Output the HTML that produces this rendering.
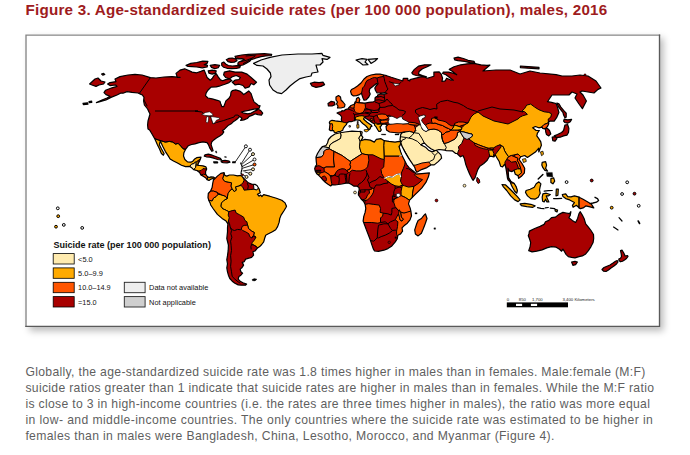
<!DOCTYPE html>
<html lang="en"><head><meta charset="utf-8">
<title>Figure 3. Age-standardized suicide rates (per 100 000 population), males, 2016</title>
<style>
html,body{margin:0;padding:0;background:#fff;}
body{width:690px;height:455px;position:relative;overflow:hidden;font-family:"Liberation Sans",Arial,Helvetica,sans-serif;}
.title{position:absolute;left:25.5px;top:-0.5px;margin:0;font-weight:bold;font-size:15.2px;line-height:20px;color:#9E1B20;white-space:nowrap;letter-spacing:0.229px;}
.frame{position:absolute;left:25px;top:34px;width:635px;height:293px;background:#fff;box-shadow:3.5px 4px 7px rgba(0,0,0,.27);}
svg.map{position:absolute;left:0;top:0;}
.para{position:absolute;left:25.4px;top:364.3px;margin:0;font-size:12.2px;line-height:16.05px;color:#5f5f5f;white-space:nowrap;}
.para span{display:block;height:16.05px;}
.para b{font-weight:normal;display:inline-block;}
.para .l1{letter-spacing:0.320px}.para .l2{letter-spacing:0.311px}.para .l3{letter-spacing:0.314px}.para .l4{letter-spacing:0.396px}.para .l5{letter-spacing:0.345px}
</style></head><body>
<h1 class="title">Figure 3. Age-standardized suicide rates (per 100 000 population), males, 2016</h1>
<div class="frame"></div>
<svg class="map" width="690" height="455" viewBox="0 0 690 455">
<path d="M26,326.3 L26,35.1 L659.5,35.1" fill="none" stroke="#858585" stroke-width="1.35" stroke-linecap="square"/>
<path d="M659.5,35.1 L659.5,326.3 L26,326.3" fill="none" stroke="#5a5a5a" stroke-width="1.35" stroke-linecap="square"/>
<clipPath id="cNA"><path d="M96.4,102.6 102.0,100.0 107.0,98.0 110.0,96.2 106.0,94.6 104.0,92.6 105.6,90.2 112.0,87.8 117.0,86.4 115.6,85.0 110.0,85.6 107.6,84.0 110.0,82.6 116.0,81.6 115.0,79.0 120.0,76.6 128.0,75.0 135.0,74.4 142.0,75.0 150.4,77.6 156.0,78.0 164.0,77.0 172.0,76.6 180.0,77.4 177.4,77.5 176.0,73.4 180.0,70.1 184.7,68.8 189.4,70.8 192.1,72.1 196.8,72.8 200.8,71.4 204.2,70.1 205.5,73.4 207.1,77.5 210.2,80.2 212.2,78.5 213.8,75.9 216.2,73.7 218.2,76.8 220.5,79.9 222.7,80.8 225.6,79.6 229.6,78.8 231.9,80.6 229.0,82.6 224.9,84.2 220.3,85.8 216.2,86.9 211.1,87.1 207.9,90.2 206.2,92.9 205.5,95.6 207.9,98.0 212.2,98.9 217.3,100.3 220.0,101.3 220.9,104.3 221.9,106.7 223.7,106.7 224.9,103.6 225.9,100.9 229.0,98.2 230.6,95.6 231.0,92.2 232.3,90.6 235.7,89.9 239.7,91.1 241.7,92.5 243.7,94.6 246.0,92.9 248.7,90.9 251.1,93.6 252.4,97.6 254.0,101.9 256.7,104.0 258.9,105.9 260.0,105.7 259.1,108.4 254.0,109.1 248.6,110.4 244.6,111.1 241.2,112.0 243.9,113.2 247.9,113.8 251.3,113.1 254.0,111.4 256.4,110.4 258.3,109.2 260.7,110.5 262.7,113.1 261.4,115.1 258.0,114.6 255.3,113.8 252.6,115.1 249.3,116.4 247.3,118.5 243.9,119.9 240.6,120.5 241.9,118.1 239.5,116.4 237.9,118.5 235.2,120.5 233.2,121.8 231.2,123.8 228.5,125.2 226.5,127.2 224.5,129.2 222.5,130.5 223.8,131.9 222.5,133.9 219.8,135.9 216.4,137.9 213.8,139.9 211.8,141.9 211.1,144.6 212.2,147.9 213.1,150.6 211.8,151.3 209.7,147.9 208.4,144.6 207.1,142.6 203.0,141.9 199.0,142.6 195.0,143.9 191.6,144.5 188.2,145.8 185.5,149.4 183.9,152.8 183.5,156.1 184.9,159.5 187.5,161.9 190.9,162.2 192.7,161.3 194.3,159.3 196.7,157.7 201.0,157.2 200.3,159.3 199.3,161.7 198.3,163.3 197.9,165.3 199.6,165.5 203.0,165.9 205.9,166.9 206.7,168.9 205.6,171.6 205.6,174.2 207.0,176.2 209.0,177.6 211.0,176.9 213.7,177.2 215.0,178.3 214.4,179.9 213.0,178.5 211.0,179.1 209.0,180.4 207.0,179.6 205.6,177.7 203.6,176.4 200.9,175.0 199.6,172.4 196.9,170.5 193.6,169.7 191.6,167.7 189.6,166.3 185.5,166.6 181.5,165.3 177.5,163.0 173.5,161.0 170.1,159.0 168.1,155.6 165.4,151.6 162.7,146.2 160.3,141.0 159.4,144.7 161.4,148.8 164.1,153.5 163.4,155.2 161.4,153.5 159.4,148.8 157.4,144.7 156.0,141.4 154.7,138.7 152.0,134.0 149.6,130.0 148.0,129.0 147.6,125.0 148.0,121.0 150.0,114.0 149.0,112.0 147.6,109.0 144.4,105.0 143.6,101.0 144.0,97.4 142.4,95.0 140.0,94.0 138.0,93.0 132.0,92.4 127.0,91.6 123.0,93.2 121.0,93.0 117.0,95.0 111.0,97.4 106.0,100.0 100.0,101.6ZM224.3,72.1 229.6,70.8 235.0,72.1 241.7,72.1 247.1,74.1 251.1,77.5 256.5,82.2 253.8,84.8 251.1,83.5 249.1,86.9 245.1,88.2 243.0,85.5 239.0,84.2 235.0,84.8 232.3,82.2 235.0,80.2 239.0,79.5 240.4,77.5 236.3,75.5 232.3,76.8 229.6,78.8 225.6,77.5 223.6,74.8ZM235.0,56.3 241.7,55.0 248.3,54.3 255.0,54.0 264.3,53.7 271.7,54.3 271.3,55.5 265.7,55.9 261.0,56.7 256.3,58.0 251.0,59.7 249.7,61.3 246.3,63.3 243.0,65.0 240.3,65.5 237.7,64.3 238.3,62.3 241.7,60.7 244.3,59.3 241.7,58.7 237.7,59.0 235.7,58.0ZM226.3,59.7 229.0,58.3 232.3,58.0 235.7,59.0 237.0,60.7 234.3,62.1 231.0,62.3 228.0,61.7ZM221.7,63.0 223.7,62.0 225.7,64.0 228.3,65.5 232.3,66.0 237.0,65.7 240.3,66.0 239.7,67.7 236.3,68.5 231.7,68.7 227.0,68.3 223.7,67.3 221.7,65.3ZM186.1,65.4 190.8,63.4 196.8,62.5 202.8,61.1 207.9,61.4 207.1,63.4 204.2,64.7 207.5,65.4 207.1,67.0 202.2,67.8 196.8,67.0 192.1,66.7 188.1,66.5ZM210.2,65.4 214.9,64.7 219.6,65.4 218.2,67.8 214.9,68.8 211.5,67.4ZM208.2,70.8 212.2,70.1 216.2,70.8 215.6,73.2 212.2,74.1 208.9,73.2Z"/></clipPath>
<path d="M96.4,102.6 102.0,100.0 107.0,98.0 110.0,96.2 106.0,94.6 104.0,92.6 105.6,90.2 112.0,87.8 117.0,86.4 115.6,85.0 110.0,85.6 107.6,84.0 110.0,82.6 116.0,81.6 115.0,79.0 120.0,76.6 128.0,75.0 135.0,74.4 142.0,75.0 150.4,77.6 156.0,78.0 164.0,77.0 172.0,76.6 180.0,77.4 177.4,77.5 176.0,73.4 180.0,70.1 184.7,68.8 189.4,70.8 192.1,72.1 196.8,72.8 200.8,71.4 204.2,70.1 205.5,73.4 207.1,77.5 210.2,80.2 212.2,78.5 213.8,75.9 216.2,73.7 218.2,76.8 220.5,79.9 222.7,80.8 225.6,79.6 229.6,78.8 231.9,80.6 229.0,82.6 224.9,84.2 220.3,85.8 216.2,86.9 211.1,87.1 207.9,90.2 206.2,92.9 205.5,95.6 207.9,98.0 212.2,98.9 217.3,100.3 220.0,101.3 220.9,104.3 221.9,106.7 223.7,106.7 224.9,103.6 225.9,100.9 229.0,98.2 230.6,95.6 231.0,92.2 232.3,90.6 235.7,89.9 239.7,91.1 241.7,92.5 243.7,94.6 246.0,92.9 248.7,90.9 251.1,93.6 252.4,97.6 254.0,101.9 256.7,104.0 258.9,105.9 260.0,105.7 259.1,108.4 254.0,109.1 248.6,110.4 244.6,111.1 241.2,112.0 243.9,113.2 247.9,113.8 251.3,113.1 254.0,111.4 256.4,110.4 258.3,109.2 260.7,110.5 262.7,113.1 261.4,115.1 258.0,114.6 255.3,113.8 252.6,115.1 249.3,116.4 247.3,118.5 243.9,119.9 240.6,120.5 241.9,118.1 239.5,116.4 237.9,118.5 235.2,120.5 233.2,121.8 231.2,123.8 228.5,125.2 226.5,127.2 224.5,129.2 222.5,130.5 223.8,131.9 222.5,133.9 219.8,135.9 216.4,137.9 213.8,139.9 211.8,141.9 211.1,144.6 212.2,147.9 213.1,150.6 211.8,151.3 209.7,147.9 208.4,144.6 207.1,142.6 203.0,141.9 199.0,142.6 195.0,143.9 191.6,144.5 188.2,145.8 185.5,149.4 183.9,152.8 183.5,156.1 184.9,159.5 187.5,161.9 190.9,162.2 192.7,161.3 194.3,159.3 196.7,157.7 201.0,157.2 200.3,159.3 199.3,161.7 198.3,163.3 197.9,165.3 199.6,165.5 203.0,165.9 205.9,166.9 206.7,168.9 205.6,171.6 205.6,174.2 207.0,176.2 209.0,177.6 211.0,176.9 213.7,177.2 215.0,178.3 214.4,179.9 213.0,178.5 211.0,179.1 209.0,180.4 207.0,179.6 205.6,177.7 203.6,176.4 200.9,175.0 199.6,172.4 196.9,170.5 193.6,169.7 191.6,167.7 189.6,166.3 185.5,166.6 181.5,165.3 177.5,163.0 173.5,161.0 170.1,159.0 168.1,155.6 165.4,151.6 162.7,146.2 160.3,141.0 159.4,144.7 161.4,148.8 164.1,153.5 163.4,155.2 161.4,153.5 159.4,148.8 157.4,144.7 156.0,141.4 154.7,138.7 152.0,134.0 149.6,130.0 148.0,129.0 147.6,125.0 148.0,121.0 150.0,114.0 149.0,112.0 147.6,109.0 144.4,105.0 143.6,101.0 144.0,97.4 142.4,95.0 140.0,94.0 138.0,93.0 132.0,92.4 127.0,91.6 123.0,93.2 121.0,93.0 117.0,95.0 111.0,97.4 106.0,100.0 100.0,101.6ZM224.3,72.1 229.6,70.8 235.0,72.1 241.7,72.1 247.1,74.1 251.1,77.5 256.5,82.2 253.8,84.8 251.1,83.5 249.1,86.9 245.1,88.2 243.0,85.5 239.0,84.2 235.0,84.8 232.3,82.2 235.0,80.2 239.0,79.5 240.4,77.5 236.3,75.5 232.3,76.8 229.6,78.8 225.6,77.5 223.6,74.8ZM235.0,56.3 241.7,55.0 248.3,54.3 255.0,54.0 264.3,53.7 271.7,54.3 271.3,55.5 265.7,55.9 261.0,56.7 256.3,58.0 251.0,59.7 249.7,61.3 246.3,63.3 243.0,65.0 240.3,65.5 237.7,64.3 238.3,62.3 241.7,60.7 244.3,59.3 241.7,58.7 237.7,59.0 235.7,58.0ZM226.3,59.7 229.0,58.3 232.3,58.0 235.7,59.0 237.0,60.7 234.3,62.1 231.0,62.3 228.0,61.7ZM221.7,63.0 223.7,62.0 225.7,64.0 228.3,65.5 232.3,66.0 237.0,65.7 240.3,66.0 239.7,67.7 236.3,68.5 231.7,68.7 227.0,68.3 223.7,67.3 221.7,65.3ZM186.1,65.4 190.8,63.4 196.8,62.5 202.8,61.1 207.9,61.4 207.1,63.4 204.2,64.7 207.5,65.4 207.1,67.0 202.2,67.8 196.8,67.0 192.1,66.7 188.1,66.5ZM210.2,65.4 214.9,64.7 219.6,65.4 218.2,67.8 214.9,68.8 211.5,67.4ZM208.2,70.8 212.2,70.1 216.2,70.8 215.6,73.2 212.2,74.1 208.9,73.2Z" fill="#A80000"/>
<g clip-path="url(#cNA)">
<path d="M154.7,138.7 158.7,140.1 165.4,142.1 169.4,141.4 172.8,142.1 175.5,144.1 178.2,143.4 180.8,146.1 183.1,148.8 185.5,149.4 188.2,151.4 201.6,155.5 200.9,158.8 197.9,160.6 196.3,162.2 194.9,162.2 194.2,163.5 191.6,164.2 189.6,166.5 188.2,170.2 161.4,163.5 152.0,143.4Z" fill="#FFAA00" stroke="#000" stroke-width="1" stroke-linejoin="round"/>
<path d="M189.6,166.5 191.6,164.2 194.2,163.5 194.9,162.2 196.3,162.2 196.0,165.1 195.7,167.3 194.4,168.9 193.3,170.2 191.2,168.3Z" fill="#FFEBAF" stroke="#000" stroke-width="1" stroke-linejoin="round"/>
<path d="M196.3,162.2 197.9,160.6 198.3,165.1 196.0,165.1Z" fill="#FFAA00" stroke="#000" stroke-width="1" stroke-linejoin="round"/>
<path d="M196.0,165.1 199.6,165.1 203.0,165.5 207.0,166.5 205.9,168.9 203.0,168.6 201.1,170.5 198.9,171.0 193.6,170.2 194.4,168.9 195.7,167.3Z" fill="#FFAA00" stroke="#000" stroke-width="1" stroke-linejoin="round"/>
<path d="M200.5,175.3 203.6,174.2 206.2,174.9 207.8,176.6 207.2,180.1 205.0,178.5 202.7,177.2Z" fill="#FF5500" stroke="#000" stroke-width="1" stroke-linejoin="round"/>
<path d="M207.8,176.6 209.4,177.2 211.3,176.4 214.0,176.6 215.7,178.3 214.6,180.7 213.0,179.1 211.0,179.6 209.0,180.9 207.2,180.1Z" fill="#FFAA00" stroke="#000" stroke-width="1" stroke-linejoin="round"/>
<path d="M237.0,58.0 244.3,59.7" fill="none" stroke="#000" stroke-width="1" stroke-linejoin="round"/>
<path d="M240.3,61.7 246.3,60.3 252.3,58.0" fill="none" stroke="#000" stroke-width="1" stroke-linejoin="round"/>
<path d="M243.0,63.7 249.7,60.0 255.0,56.0" fill="none" stroke="#000" stroke-width="1" stroke-linejoin="round"/>
<path d="M245.7,56.0 256.3,55.0" fill="none" stroke="#000" stroke-width="1" stroke-linejoin="round"/>
<path d="M150.4,77.6 139.6,93.0 140.4,94.4 144.0,100.0 147.2,106.2" fill="none" stroke="#000" stroke-width="1" stroke-linejoin="round"/>
<path d="M155.0,111.0 198.0,111.0 195.0,111.1 201.7,112.0 205.1,115.1 209.1,115.8 210.8,116.4 212.2,121.1 213.1,123.8 216.4,122.5 223.8,120.5 227.8,119.1 233.9,117.1 235.2,115.1 237.9,115.1 239.5,116.4" fill="none" stroke="#000" stroke-width="1" stroke-linejoin="round"/>
<path d="M154.7,138.7 158.7,140.1 165.4,142.1 169.4,141.4 172.8,142.1 175.5,144.1 178.2,143.4 180.8,146.1 183.1,148.8 185.5,149.4" fill="none" stroke="#000" stroke-width="1" stroke-linejoin="round"/>
</g>
<path d="M96.4,102.6 102.0,100.0 107.0,98.0 110.0,96.2 106.0,94.6 104.0,92.6 105.6,90.2 112.0,87.8 117.0,86.4 115.6,85.0 110.0,85.6 107.6,84.0 110.0,82.6 116.0,81.6 115.0,79.0 120.0,76.6 128.0,75.0 135.0,74.4 142.0,75.0 150.4,77.6 156.0,78.0 164.0,77.0 172.0,76.6 180.0,77.4 177.4,77.5 176.0,73.4 180.0,70.1 184.7,68.8 189.4,70.8 192.1,72.1 196.8,72.8 200.8,71.4 204.2,70.1 205.5,73.4 207.1,77.5 210.2,80.2 212.2,78.5 213.8,75.9 216.2,73.7 218.2,76.8 220.5,79.9 222.7,80.8 225.6,79.6 229.6,78.8 231.9,80.6 229.0,82.6 224.9,84.2 220.3,85.8 216.2,86.9 211.1,87.1 207.9,90.2 206.2,92.9 205.5,95.6 207.9,98.0 212.2,98.9 217.3,100.3 220.0,101.3 220.9,104.3 221.9,106.7 223.7,106.7 224.9,103.6 225.9,100.9 229.0,98.2 230.6,95.6 231.0,92.2 232.3,90.6 235.7,89.9 239.7,91.1 241.7,92.5 243.7,94.6 246.0,92.9 248.7,90.9 251.1,93.6 252.4,97.6 254.0,101.9 256.7,104.0 258.9,105.9 260.0,105.7 259.1,108.4 254.0,109.1 248.6,110.4 244.6,111.1 241.2,112.0 243.9,113.2 247.9,113.8 251.3,113.1 254.0,111.4 256.4,110.4 258.3,109.2 260.7,110.5 262.7,113.1 261.4,115.1 258.0,114.6 255.3,113.8 252.6,115.1 249.3,116.4 247.3,118.5 243.9,119.9 240.6,120.5 241.9,118.1 239.5,116.4 237.9,118.5 235.2,120.5 233.2,121.8 231.2,123.8 228.5,125.2 226.5,127.2 224.5,129.2 222.5,130.5 223.8,131.9 222.5,133.9 219.8,135.9 216.4,137.9 213.8,139.9 211.8,141.9 211.1,144.6 212.2,147.9 213.1,150.6 211.8,151.3 209.7,147.9 208.4,144.6 207.1,142.6 203.0,141.9 199.0,142.6 195.0,143.9 191.6,144.5 188.2,145.8 185.5,149.4 183.9,152.8 183.5,156.1 184.9,159.5 187.5,161.9 190.9,162.2 192.7,161.3 194.3,159.3 196.7,157.7 201.0,157.2 200.3,159.3 199.3,161.7 198.3,163.3 197.9,165.3 199.6,165.5 203.0,165.9 205.9,166.9 206.7,168.9 205.6,171.6 205.6,174.2 207.0,176.2 209.0,177.6 211.0,176.9 213.7,177.2 215.0,178.3 214.4,179.9 213.0,178.5 211.0,179.1 209.0,180.4 207.0,179.6 205.6,177.7 203.6,176.4 200.9,175.0 199.6,172.4 196.9,170.5 193.6,169.7 191.6,167.7 189.6,166.3 185.5,166.6 181.5,165.3 177.5,163.0 173.5,161.0 170.1,159.0 168.1,155.6 165.4,151.6 162.7,146.2 160.3,141.0 159.4,144.7 161.4,148.8 164.1,153.5 163.4,155.2 161.4,153.5 159.4,148.8 157.4,144.7 156.0,141.4 154.7,138.7 152.0,134.0 149.6,130.0 148.0,129.0 147.6,125.0 148.0,121.0 150.0,114.0 149.0,112.0 147.6,109.0 144.4,105.0 143.6,101.0 144.0,97.4 142.4,95.0 140.0,94.0 138.0,93.0 132.0,92.4 127.0,91.6 123.0,93.2 121.0,93.0 117.0,95.0 111.0,97.4 106.0,100.0 100.0,101.6ZM224.3,72.1 229.6,70.8 235.0,72.1 241.7,72.1 247.1,74.1 251.1,77.5 256.5,82.2 253.8,84.8 251.1,83.5 249.1,86.9 245.1,88.2 243.0,85.5 239.0,84.2 235.0,84.8 232.3,82.2 235.0,80.2 239.0,79.5 240.4,77.5 236.3,75.5 232.3,76.8 229.6,78.8 225.6,77.5 223.6,74.8ZM235.0,56.3 241.7,55.0 248.3,54.3 255.0,54.0 264.3,53.7 271.7,54.3 271.3,55.5 265.7,55.9 261.0,56.7 256.3,58.0 251.0,59.7 249.7,61.3 246.3,63.3 243.0,65.0 240.3,65.5 237.7,64.3 238.3,62.3 241.7,60.7 244.3,59.3 241.7,58.7 237.7,59.0 235.7,58.0ZM226.3,59.7 229.0,58.3 232.3,58.0 235.7,59.0 237.0,60.7 234.3,62.1 231.0,62.3 228.0,61.7ZM221.7,63.0 223.7,62.0 225.7,64.0 228.3,65.5 232.3,66.0 237.0,65.7 240.3,66.0 239.7,67.7 236.3,68.5 231.7,68.7 227.0,68.3 223.7,67.3 221.7,65.3ZM186.1,65.4 190.8,63.4 196.8,62.5 202.8,61.1 207.9,61.4 207.1,63.4 204.2,64.7 207.5,65.4 207.1,67.0 202.2,67.8 196.8,67.0 192.1,66.7 188.1,66.5ZM210.2,65.4 214.9,64.7 219.6,65.4 218.2,67.8 214.9,68.8 211.5,67.4ZM208.2,70.8 212.2,70.1 216.2,70.8 215.6,73.2 212.2,74.1 208.9,73.2Z" fill="none" stroke="#000" stroke-width="1.2" stroke-linejoin="round"/>
<clipPath id="cSA"><path d="M214.7,178.8 217.4,176.1 220.8,173.4 224.1,172.7 224.8,175.4 226.8,176.1 229.5,175.0 233.5,175.0 237.5,175.8 240.9,175.4 242.9,177.4 245.6,180.1 248.3,182.8 251.6,184.1 255.0,184.4 257.0,185.5 259.0,188.8 260.3,192.8 257.4,194.2 259.0,196.2 260.6,195.1 261.9,196.5 263.7,194.6 269.7,196.2 276.4,198.2 281.8,200.2 285.1,202.9 286.5,206.2 285.8,207.7 283.8,211.0 281.1,215.1 279.8,218.4 279.1,222.4 277.7,226.4 275.7,229.8 272.4,231.8 268.4,233.8 265.7,235.2 264.6,238.5 263.7,241.9 261.7,244.5 259.7,246.6 257.6,247.9 255.0,251.0 252.9,251.7 253.6,255.1 251.6,257.3 248.9,258.1 245.6,259.1 244.2,261.8 242.2,262.4 243.6,265.1 241.8,267.8 240.2,269.1 240.9,271.8 242.6,273.2 240.9,275.2 238.9,276.5 238.2,279.2 240.2,281.2 242.9,282.8 246.6,284.1 245.6,285.2 241.6,285.2 238.2,284.9 234.9,283.2 232.2,281.2 229.8,278.5 228.4,275.2 227.5,271.8 226.8,267.8 227.5,263.8 226.8,259.7 227.5,255.7 228.2,250.4 228.4,245.0 226.8,238.5 227.5,231.8 227.5,227.8 227.9,223.8 226.1,221.1 222.1,218.4 217.4,214.4 213.4,209.0 210.7,205.0 210.1,202.9 208.7,200.2 208.0,197.5 208.3,193.5 210.7,190.8 212.1,187.5 212.7,183.5 213.4,180.1Z"/></clipPath>
<path d="M214.7,178.8 217.4,176.1 220.8,173.4 224.1,172.7 224.8,175.4 226.8,176.1 229.5,175.0 233.5,175.0 237.5,175.8 240.9,175.4 242.9,177.4 245.6,180.1 248.3,182.8 251.6,184.1 255.0,184.4 257.0,185.5 259.0,188.8 260.3,192.8 257.4,194.2 259.0,196.2 260.6,195.1 261.9,196.5 263.7,194.6 269.7,196.2 276.4,198.2 281.8,200.2 285.1,202.9 286.5,206.2 285.8,207.7 283.8,211.0 281.1,215.1 279.8,218.4 279.1,222.4 277.7,226.4 275.7,229.8 272.4,231.8 268.4,233.8 265.7,235.2 264.6,238.5 263.7,241.9 261.7,244.5 259.7,246.6 257.6,247.9 255.0,251.0 252.9,251.7 253.6,255.1 251.6,257.3 248.9,258.1 245.6,259.1 244.2,261.8 242.2,262.4 243.6,265.1 241.8,267.8 240.2,269.1 240.9,271.8 242.6,273.2 240.9,275.2 238.9,276.5 238.2,279.2 240.2,281.2 242.9,282.8 246.6,284.1 245.6,285.2 241.6,285.2 238.2,284.9 234.9,283.2 232.2,281.2 229.8,278.5 228.4,275.2 227.5,271.8 226.8,267.8 227.5,263.8 226.8,259.7 227.5,255.7 228.2,250.4 228.4,245.0 226.8,238.5 227.5,231.8 227.5,227.8 227.9,223.8 226.1,221.1 222.1,218.4 217.4,214.4 213.4,209.0 210.7,205.0 210.1,202.9 208.7,200.2 208.0,197.5 208.3,193.5 210.7,190.8 212.1,187.5 212.7,183.5 213.4,180.1Z" fill="#A80000"/>
<g clip-path="url(#cSA)">
<path d="M234.2,191.5 236.2,190.2 235.5,186.8 238.2,186.1 240.9,185.5 242.6,186.8 244.2,190.2 247.6,189.8 250.9,189.5 253.9,189.2 256.3,189.8 258.3,188.4 261.7,186.8 293.8,193.5 293.8,218.4 280.4,238.5 263.0,249.2 257.9,247.9 256.3,246.6 253.6,244.9 251.6,244.5 252.3,242.5 254.3,240.1 256.0,237.2 253.6,235.2 254.3,232.5 251.6,231.1 248.5,228.5 247.6,225.1 246.9,221.8 244.9,220.4 243.6,217.1 239.5,214.7 236.2,213.0 235.1,210.1 232.2,210.6 228.8,211.7 228.8,211.6 226.8,210.7 224.8,209.6 222.8,208.9 220.8,206.2 221.4,202.9 224.1,200.2 227.2,198.6 227.9,193.5 228.8,192.2 230.2,190.2 232.2,188.8Z" fill="#FFAA00" stroke="#000" stroke-width="1" stroke-linejoin="round"/>
<path d="M208.7,200.2 212.1,200.9 213.4,198.2 216.1,196.5 218.1,194.2 222.1,195.1 225.5,196.2 227.2,198.6 224.1,200.2 221.4,202.9 220.8,206.2 222.8,208.9 224.8,209.6 226.8,210.7 228.8,211.6 228.8,211.7 228.2,215.1 229.2,217.7 228.4,221.1 227.9,223.8 226.8,223.2 220.1,223.8 206.7,205.0 205.4,204.2 205.4,200.2Z" fill="#FFAA00" stroke="#000" stroke-width="1" stroke-linejoin="round"/>
<path d="M208.0,190.8 210.7,191.1 213.4,191.1 216.8,192.2 218.8,193.5 222.1,195.1 225.5,196.2 227.2,198.6 227.9,193.5 228.8,192.2 230.2,190.2 232.2,188.8 231.1,186.1 231.6,182.8 228.2,182.1 224.8,181.4 222.8,178.8 223.6,175.8 224.4,172.7 222.8,170.7 213.4,176.1 212.1,180.1 208.0,186.8Z" fill="#FF5500" stroke="#000" stroke-width="1" stroke-linejoin="round"/>
<path d="M207.4,193.5 210.7,191.1 213.4,191.1 216.8,192.2 218.1,194.2 216.1,196.5 213.4,198.2 212.1,200.9 208.7,200.2 206.7,198.9 206.0,196.2Z" fill="#FF5500" stroke="#000" stroke-width="1" stroke-linejoin="round"/>
<path d="M224.4,172.7 223.6,175.8 222.8,178.8 224.8,181.4 228.2,182.1 231.6,182.8 231.1,186.1 232.2,188.8 234.2,191.5 236.2,190.2 235.5,186.8 238.2,186.1 240.9,184.8 242.9,182.8 244.2,180.1 242.9,177.7 244.2,173.4 226.8,171.4Z" fill="#FFAA00" stroke="#000" stroke-width="1" stroke-linejoin="round"/>
<path d="M242.2,226.4 244.2,225.4 247.6,225.1 248.5,228.5 251.6,231.1 254.3,232.5 253.6,235.2 251.6,237.8 249.6,236.5 248.9,233.8 245.6,231.8 242.6,230.5 241.3,229.1Z" fill="#FF5500" stroke="#000" stroke-width="1" stroke-linejoin="round"/>
<path d="M253.6,184.8 257.0,183.5 260.3,188.8 258.3,188.4 256.3,189.8 253.9,189.2Z" fill="#fff" stroke="#000" stroke-width="1" stroke-linejoin="round"/>
<path d="M247.2,183.1 248.3,186.1 247.6,189.8" fill="none" stroke="#000" stroke-width="1" stroke-linejoin="round"/>
<path d="M228.4,221.1 229.5,223.8 230.2,227.1 231.5,230.5 230.8,233.8 231.9,237.2 230.6,241.2 231.1,245.2 231.5,250.4 230.6,255.7 231.1,261.1 230.6,266.4 231.5,271.8 232.2,276.5 234.9,279.2 238.2,281.9 240.2,283.2" fill="none" stroke="#000" stroke-width="1" stroke-linejoin="round"/>
<path d="M230.2,227.1 232.2,229.8 234.6,230.5 237.5,229.4 240.9,229.8" fill="none" stroke="#000" stroke-width="1" stroke-linejoin="round"/>
<path d="M251.6,237.8 253.6,236.5 256.0,237.2" fill="none" stroke="#000" stroke-width="1" stroke-linejoin="round"/>
<path d="M251.6,244.5 250.9,246.6 251.2,249.5" fill="none" stroke="#000" stroke-width="1" stroke-linejoin="round"/>
<path d="M251.6,244.5 253.6,244.9 256.3,246.6 257.9,247.9" fill="none" stroke="#000" stroke-width="1" stroke-linejoin="round"/>
</g>
<path d="M214.7,178.8 217.4,176.1 220.8,173.4 224.1,172.7 224.8,175.4 226.8,176.1 229.5,175.0 233.5,175.0 237.5,175.8 240.9,175.4 242.9,177.4 245.6,180.1 248.3,182.8 251.6,184.1 255.0,184.4 257.0,185.5 259.0,188.8 260.3,192.8 257.4,194.2 259.0,196.2 260.6,195.1 261.9,196.5 263.7,194.6 269.7,196.2 276.4,198.2 281.8,200.2 285.1,202.9 286.5,206.2 285.8,207.7 283.8,211.0 281.1,215.1 279.8,218.4 279.1,222.4 277.7,226.4 275.7,229.8 272.4,231.8 268.4,233.8 265.7,235.2 264.6,238.5 263.7,241.9 261.7,244.5 259.7,246.6 257.6,247.9 255.0,251.0 252.9,251.7 253.6,255.1 251.6,257.3 248.9,258.1 245.6,259.1 244.2,261.8 242.2,262.4 243.6,265.1 241.8,267.8 240.2,269.1 240.9,271.8 242.6,273.2 240.9,275.2 238.9,276.5 238.2,279.2 240.2,281.2 242.9,282.8 246.6,284.1 245.6,285.2 241.6,285.2 238.2,284.9 234.9,283.2 232.2,281.2 229.8,278.5 228.4,275.2 227.5,271.8 226.8,267.8 227.5,263.8 226.8,259.7 227.5,255.7 228.2,250.4 228.4,245.0 226.8,238.5 227.5,231.8 227.5,227.8 227.9,223.8 226.1,221.1 222.1,218.4 217.4,214.4 213.4,209.0 210.7,205.0 210.1,202.9 208.7,200.2 208.0,197.5 208.3,193.5 210.7,190.8 212.1,187.5 212.7,183.5 213.4,180.1Z" fill="none" stroke="#000" stroke-width="1.2" stroke-linejoin="round"/>
<clipPath id="cAF"><path d="M335.0,134.0 339.0,133.0 345.0,132.0 352.0,131.2 359.0,131.5 360.2,131.4 362.2,132.0 361.5,135.4 362.9,137.4 360.9,140.7 364.9,139.4 370.3,140.1 374.3,142.1 376.3,139.4 381.0,138.7 384.3,140.7 389.0,141.4 395.1,142.1 399.1,141.4 398.7,141.4 401.1,141.7 400.0,145.5 399.0,146.5 400.7,151.9 402.3,155.9 404.6,160.5 406.6,164.5 409.3,167.9 412.9,170.7 415.5,172.9 415.8,174.1 421.9,173.6 429.4,172.9 428.4,176.8 425.9,182.4 421.9,187.8 417.9,191.8 414.5,195.2 411.9,197.8 409.6,200.1 408.5,203.9 410.1,207.9 410.9,211.2 411.5,215.9 410.0,219.8 407.3,223.2 404.0,225.8 402.0,227.8 402.6,231.2 400.6,233.9 397.9,235.2 397.3,238.6 395.3,241.9 391.9,245.9 387.9,248.6 383.9,250.2 378.5,251.3 374.5,251.0 373.2,248.6 371.8,244.6 370.5,240.6 368.5,235.2 366.4,229.9 364.4,224.5 363.1,221.1 363.8,216.4 365.1,212.4 365.8,208.4 365.1,204.4 363.8,201.7 361.1,199.0 358.4,195.0 358.5,192.5 359.2,190.0 359.0,187.5 357.0,186.2 354.0,186.2 351.5,184.5 349.0,183.2 346.0,183.2 342.0,184.0 338.5,184.5 335.0,185.0 335.3,185.0 332.0,184.7 330.7,186.0 328.0,184.3 325.3,182.3 323.0,180.0 320.7,177.3 318.7,175.3 316.7,173.7 315.3,171.3 314.7,168.7 315.3,166.7 316.7,164.7 316.3,162.0 316.0,158.0 316.0,157.0 317.5,153.5 320.0,149.5 322.5,146.5 326.0,145.5 327.5,143.0 328.5,139.5 331.2,136.5Z"/></clipPath>
<path d="M335.0,134.0 339.0,133.0 345.0,132.0 352.0,131.2 359.0,131.5 360.2,131.4 362.2,132.0 361.5,135.4 362.9,137.4 360.9,140.7 364.9,139.4 370.3,140.1 374.3,142.1 376.3,139.4 381.0,138.7 384.3,140.7 389.0,141.4 395.1,142.1 399.1,141.4 398.7,141.4 401.1,141.7 400.0,145.5 399.0,146.5 400.7,151.9 402.3,155.9 404.6,160.5 406.6,164.5 409.3,167.9 412.9,170.7 415.5,172.9 415.8,174.1 421.9,173.6 429.4,172.9 428.4,176.8 425.9,182.4 421.9,187.8 417.9,191.8 414.5,195.2 411.9,197.8 409.6,200.1 408.5,203.9 410.1,207.9 410.9,211.2 411.5,215.9 410.0,219.8 407.3,223.2 404.0,225.8 402.0,227.8 402.6,231.2 400.6,233.9 397.9,235.2 397.3,238.6 395.3,241.9 391.9,245.9 387.9,248.6 383.9,250.2 378.5,251.3 374.5,251.0 373.2,248.6 371.8,244.6 370.5,240.6 368.5,235.2 366.4,229.9 364.4,224.5 363.1,221.1 363.8,216.4 365.1,212.4 365.8,208.4 365.1,204.4 363.8,201.7 361.1,199.0 358.4,195.0 358.5,192.5 359.2,190.0 359.0,187.5 357.0,186.2 354.0,186.2 351.5,184.5 349.0,183.2 346.0,183.2 342.0,184.0 338.5,184.5 335.0,185.0 335.3,185.0 332.0,184.7 330.7,186.0 328.0,184.3 325.3,182.3 323.0,180.0 320.7,177.3 318.7,175.3 316.7,173.7 315.3,171.3 314.7,168.7 315.3,166.7 316.7,164.7 316.3,162.0 316.0,158.0 316.0,157.0 317.5,153.5 320.0,149.5 322.5,146.5 326.0,145.5 327.5,143.0 328.5,139.5 331.2,136.5Z" fill="#A80000"/>
<g clip-path="url(#cAF)">
<path d="M333.0,132.0 340.0,132.2 341.2,135.0 340.5,138.5 337.0,140.5 333.0,142.5 330.0,144.8 329.2,147.8 322.8,146.6 321.0,145.0 327.0,138.0Z" fill="#FFEBAF" stroke="#000" stroke-width="1" stroke-linejoin="round"/>
<path d="M322.8,146.6 329.2,147.8 329.5,149.0 326.0,149.5 324.0,151.5 323.5,154.5 321.5,157.0 317.0,157.5 314.0,157.0 319.0,148.0Z" fill="#CCCCCC" stroke="#000" stroke-width="1" stroke-linejoin="round"/>
<path d="M341.2,135.0 340.0,132.2 345.0,130.5 359.5,130.5 360.2,131.4 360.9,134.7 358.9,138.1 360.2,141.4 359.5,146.8 360.9,151.9 362.2,153.7 350.2,161.4 342.1,155.5 333.4,150.8 334.0,151.5 329.5,148.8 329.2,147.8 330.0,144.8 333.0,142.5 337.0,140.5 340.5,138.5Z" fill="#FFEBAF" stroke="#000" stroke-width="1" stroke-linejoin="round"/>
<path d="M360.2,131.4 360.9,129.3 364.9,131.4 364.2,137.4 360.9,140.7 360.2,141.4 358.9,138.1 360.9,134.7Z" fill="#FFEBAF" stroke="#000" stroke-width="1" stroke-linejoin="round"/>
<path d="M360.9,140.7 364.9,137.4 375.6,137.4 381.0,136.7 384.3,138.7 384.3,140.7 383.9,145.4 384.3,159.5 381.0,158.8 372.9,154.8 368.2,154.8 364.9,154.4 362.2,153.7 360.9,151.9 359.5,146.8 360.2,141.4Z" fill="#FFAA00" stroke="#000" stroke-width="1" stroke-linejoin="round"/>
<path d="M384.3,138.7 391.7,139.4 402.4,139.4 405.8,148.1 406.5,154.8 403.8,154.8 399.1,156.2 384.3,156.2 383.9,145.4 384.3,140.7Z" fill="#FFAA00" stroke="#000" stroke-width="1" stroke-linejoin="round"/>
<path d="M317.0,157.5 321.5,157.0 323.5,154.5 324.0,151.5 326.0,149.5 329.5,149.0 334.0,151.5 333.5,159.0 334.5,167.0 334.0,167.0 326.0,167.0 324.0,168.0 322.0,167.3 320.0,166.0 318.0,165.7 315.3,167.0 313.3,166.0 313.0,160.0Z" fill="#FF5500" stroke="#000" stroke-width="1" stroke-linejoin="round"/>
<path d="M334.0,151.5 342.1,155.5 350.2,161.4 350.7,162.0 350.0,164.7 350.7,166.7 350.0,169.0 346.7,170.5 344.7,169.0 342.0,168.7 338.7,169.7 336.7,171.3 335.7,173.0 334.7,175.0 332.7,175.7 330.0,175.5 328.0,173.7 325.7,172.3 324.3,171.7 324.0,168.0 326.0,167.0 334.0,167.0 334.5,167.0 333.5,159.0Z" fill="#FF5500" stroke="#000" stroke-width="1" stroke-linejoin="round"/>
<path d="M350.2,161.4 362.2,153.7 364.9,154.4 368.2,154.8 368.9,160.2 367.6,166.9 364.9,169.6 360.9,170.9 356.2,170.9 352.2,170.2 349.3,172.5 348.3,172.3 346.7,170.7 350.0,169.0 350.7,166.7 350.0,164.7 350.7,162.0Z" fill="#FF5500" stroke="#000" stroke-width="1" stroke-linejoin="round"/>
<path d="M384.3,156.2 399.1,156.2 403.8,154.8 405.4,160.2 404.7,164.9 403.4,168.3 401.4,172.9 401.1,177.7 400.5,177.1 399.8,173.7 396.4,174.4 392.4,177.1 388.4,176.4 384.4,178.4 384.3,178.3 381.7,173.6 381.0,169.6 383.7,166.9 384.3,159.5Z" fill="#FF5500" stroke="#000" stroke-width="1" stroke-linejoin="round"/>
<path d="M384.4,178.4 388.4,176.8 392.4,177.3 396.4,174.7 399.8,174.1 401.1,177.7 400.5,181.1 402.5,185.1 399.1,186.4 395.1,185.8 391.1,183.8 387.7,181.1Z" fill="#FFAA00" stroke="#000" stroke-width="1" stroke-linejoin="round"/>
<path d="M402.5,185.1 404.5,185.8 408.5,187.1 413.9,186.4 413.2,189.8 412.5,193.8 412.3,197.8 409.9,200.5 405.2,197.4 401.1,195.6 401.1,191.1 401.8,187.8Z" fill="#FFAA00" stroke="#000" stroke-width="1" stroke-linejoin="round"/>
<path d="M415.8,173.3 414.4,174.7 415.9,176.4 419.2,178.4 422.6,179.7 417.9,183.8 413.9,186.4 413.2,189.8 412.5,193.8 412.3,197.8 415.2,198.5 431.3,178.4 431.3,169.0 421.9,169.0Z" fill="#FF5500" stroke="#000" stroke-width="1" stroke-linejoin="round"/>
<path d="M393.8,199.2 397.1,197.8 401.1,195.6 405.2,197.4 409.9,200.5 413.9,202.5 413.9,211.2 410.5,211.2 407.8,212.6 403.8,213.3 400.5,211.9 397.8,209.9 395.1,206.6 393.8,202.5Z" fill="#FF5500" stroke="#000" stroke-width="1" stroke-linejoin="round"/>
<path d="M401.3,212.4 404.0,213.1 410.7,211.1 414.7,211.1 414.7,221.8 405.3,235.2 397.9,236.6 396.6,234.5 396.6,231.2 397.5,226.5 397.9,221.8 395.3,219.8 396.6,217.1 398.6,213.8 399.3,216.4 400.0,219.8 402.0,221.1 403.3,219.1 401.3,217.1 400.6,212.4Z" fill="#FF5500" stroke="#000" stroke-width="1" stroke-linejoin="round"/>
<path d="M399.3,209.7 400.6,212.4 401.3,217.1 403.3,219.1 402.0,221.1 400.0,219.8 399.3,216.4 398.6,213.8Z" fill="#FF5500" stroke="#000" stroke-width="1" stroke-linejoin="round"/>
<path d="M365.1,204.4 368.5,203.7 373.8,204.4 379.2,205.1 380.5,208.4 380.1,212.4 383.2,213.1 382.5,216.4 380.5,217.8 380.5,222.5 377.8,223.2 371.8,222.5 363.8,222.5 359.7,221.8 361.1,208.4 363.1,204.4Z" fill="#FF5500" stroke="#000" stroke-width="1" stroke-linejoin="round"/>
<path d="M362.2,200.1 365.1,200.6 364.8,202.8 362.7,202.4Z" fill="#FF5500" stroke="#000" stroke-width="1" stroke-linejoin="round"/>
<path d="M372.0,188.0 374.0,188.5 373.5,192.0 372.0,195.0 370.0,197.5 367.5,200.0 365.0,200.5 363.0,201.0 362.5,199.5 364.0,199.5 366.0,198.5 367.5,195.0 369.5,193.0 369.0,189.8 372.0,189.0Z" fill="#FF5500" stroke="#000" stroke-width="1" stroke-linejoin="round"/>
<path d="M320.0,172.8 322.7,172.5 324.1,171.7 325.7,172.3 328.0,173.7 330.0,175.5 330.7,177.3 331.2,181.0 331.7,183.3 331.9,185.0 330.0,187.3 316.7,175.3 317.0,173.0Z" fill="#FF5500" stroke="#000" stroke-width="1" stroke-linejoin="round"/>
<path d="M322.3,176.7 324.3,176.0 326.0,177.3 326.5,179.3 326.0,181.0 323.3,181.3 321.3,178.0Z" fill="#A80000" stroke="#000" stroke-width="1" stroke-linejoin="round"/>
<path d="M316.0,172.8 320.0,172.8 320.0,174.1 317.3,174.7 316.0,174.0Z" fill="#FFAA00" stroke="#000" stroke-width="1" stroke-linejoin="round"/>
<path d="M315.7,170.4 320.7,170.2 320.7,171.1 315.7,171.3Z" fill="#000" stroke="#000" stroke-width="1" stroke-linejoin="round"/>
<path d="M339.3,174.7 338.8,176.7 339.3,179.3 338.8,183.9" fill="none" stroke="#000" stroke-width="1" stroke-linejoin="round"/>
<path d="M334.8,175.2 336.7,176.3 338.8,176.7" fill="none" stroke="#000" stroke-width="1" stroke-linejoin="round"/>
<path d="M335.7,173.0 334.8,175.2 332.7,175.9 330.7,177.3" fill="none" stroke="#000" stroke-width="1" stroke-linejoin="round"/>
<path d="M339.3,174.7 340.7,174.0 343.3,174.0 345.0,174.3 346.3,174.3 347.3,173.7 348.3,172.3" fill="none" stroke="#000" stroke-width="1" stroke-linejoin="round"/>
<path d="M345.0,174.3 345.3,177.3 346.0,181.3 345.7,183.0" fill="none" stroke="#000" stroke-width="1" stroke-linejoin="round"/>
<path d="M346.3,174.3 346.7,178.0 347.0,182.8" fill="none" stroke="#000" stroke-width="1" stroke-linejoin="round"/>
<path d="M350.0,173.3 349.3,176.7 349.0,180.0 348.7,182.7" fill="none" stroke="#000" stroke-width="1" stroke-linejoin="round"/>
<path d="M367.0,173.0 366.5,176.0 364.0,180.0 361.5,182.5 359.0,184.0 357.5,186.2" fill="none" stroke="#000" stroke-width="1" stroke-linejoin="round"/>
<path d="M366.0,170.0 367.0,173.0 368.0,175.0 369.0,177.5 367.5,180.0 369.0,183.5" fill="none" stroke="#000" stroke-width="1" stroke-linejoin="round"/>
<path d="M369.0,183.5 372.0,181.5 376.0,180.0 380.0,176.5 383.0,178.0" fill="none" stroke="#000" stroke-width="1" stroke-linejoin="round"/>
<path d="M374.0,188.5 376.0,185.0 380.0,185.0 384.0,183.5 388.0,183.0 387.7,181.1" fill="none" stroke="#000" stroke-width="1" stroke-linejoin="round"/>
<path d="M369.0,183.5 370.0,187.0 372.0,188.0" fill="none" stroke="#000" stroke-width="1" stroke-linejoin="round"/>
<path d="M359.2,190.0 360.5,190.0 365.0,189.8 369.0,189.8" fill="none" stroke="#000" stroke-width="1" stroke-linejoin="round"/>
<path d="M360.5,190.0 360.5,192.0 365.0,192.0 365.0,189.8" fill="none" stroke="#000" stroke-width="1" stroke-linejoin="round"/>
<path d="M359.2,194.5 360.5,192.0" fill="none" stroke="#000" stroke-width="1" stroke-linejoin="round"/>
<path d="M395.1,185.8 395.1,188.5 393.8,191.8 393.8,195.2 392.4,196.1 392.4,201.9 393.8,202.5" fill="none" stroke="#000" stroke-width="1" stroke-linejoin="round"/>
<path d="M395.1,188.5 399.1,187.1 401.8,187.8" fill="none" stroke="#000" stroke-width="1" stroke-linejoin="round"/>
<path d="M393.8,195.2 396.4,194.8" fill="none" stroke="#000" stroke-width="1" stroke-linejoin="round"/>
<path d="M392.4,196.1 395.1,196.6 397.1,197.8" fill="none" stroke="#000" stroke-width="1" stroke-linejoin="round"/>
<path d="M392.4,199.2 395.1,199.3" fill="none" stroke="#000" stroke-width="1" stroke-linejoin="round"/>
<path d="M397.8,209.9 395.9,207.7 391.9,208.4 391.9,212.4 391.2,215.1 387.9,213.8 383.2,213.1" fill="none" stroke="#000" stroke-width="1" stroke-linejoin="round"/>
<path d="M380.5,222.5 385.2,221.8 387.9,223.8 390.6,221.8 395.3,219.8" fill="none" stroke="#000" stroke-width="1" stroke-linejoin="round"/>
<path d="M378.5,225.2 377.8,229.9 377.2,237.9" fill="none" stroke="#000" stroke-width="1" stroke-linejoin="round"/>
<path d="M378.5,225.2 383.9,223.8 387.9,223.8" fill="none" stroke="#000" stroke-width="1" stroke-linejoin="round"/>
<path d="M377.2,237.9 373.8,241.2 370.7,240.6" fill="none" stroke="#000" stroke-width="1" stroke-linejoin="round"/>
<path d="M377.2,237.9 378.5,237.9 381.2,236.6 385.2,235.2 389.2,233.2 392.6,230.5" fill="none" stroke="#000" stroke-width="1" stroke-linejoin="round"/>
<path d="M387.9,223.8 390.6,228.5 392.6,230.5" fill="none" stroke="#000" stroke-width="1" stroke-linejoin="round"/>
<path d="M392.6,230.5 395.3,230.1 396.6,231.2" fill="none" stroke="#000" stroke-width="1" stroke-linejoin="round"/>
<path d="M406.1,168.3 408.8,168.9 412.1,171.6 414.8,172.9" fill="none" stroke="#000" stroke-width="1" stroke-linejoin="round"/>
</g>
<path d="M335.0,134.0 339.0,133.0 345.0,132.0 352.0,131.2 359.0,131.5 360.2,131.4 362.2,132.0 361.5,135.4 362.9,137.4 360.9,140.7 364.9,139.4 370.3,140.1 374.3,142.1 376.3,139.4 381.0,138.7 384.3,140.7 389.0,141.4 395.1,142.1 399.1,141.4 398.7,141.4 401.1,141.7 400.0,145.5 399.0,146.5 400.7,151.9 402.3,155.9 404.6,160.5 406.6,164.5 409.3,167.9 412.9,170.7 415.5,172.9 415.8,174.1 421.9,173.6 429.4,172.9 428.4,176.8 425.9,182.4 421.9,187.8 417.9,191.8 414.5,195.2 411.9,197.8 409.6,200.1 408.5,203.9 410.1,207.9 410.9,211.2 411.5,215.9 410.0,219.8 407.3,223.2 404.0,225.8 402.0,227.8 402.6,231.2 400.6,233.9 397.9,235.2 397.3,238.6 395.3,241.9 391.9,245.9 387.9,248.6 383.9,250.2 378.5,251.3 374.5,251.0 373.2,248.6 371.8,244.6 370.5,240.6 368.5,235.2 366.4,229.9 364.4,224.5 363.1,221.1 363.8,216.4 365.1,212.4 365.8,208.4 365.1,204.4 363.8,201.7 361.1,199.0 358.4,195.0 358.5,192.5 359.2,190.0 359.0,187.5 357.0,186.2 354.0,186.2 351.5,184.5 349.0,183.2 346.0,183.2 342.0,184.0 338.5,184.5 335.0,185.0 335.3,185.0 332.0,184.7 330.7,186.0 328.0,184.3 325.3,182.3 323.0,180.0 320.7,177.3 318.7,175.3 316.7,173.7 315.3,171.3 314.7,168.7 315.3,166.7 316.7,164.7 316.3,162.0 316.0,158.0 316.0,157.0 317.5,153.5 320.0,149.5 322.5,146.5 326.0,145.5 327.5,143.0 328.5,139.5 331.2,136.5Z" fill="none" stroke="#000" stroke-width="1.2" stroke-linejoin="round"/>
<clipPath id="cEA"><path d="M330.0,121.3 332.0,120.3 335.3,120.9 339.3,121.3 342.0,121.7 341.3,119.3 341.7,117.0 340.3,115.0 338.7,114.0 337.0,113.0 339.3,112.0 341.3,111.7 342.0,110.7 343.7,111.0 345.3,109.7 348.0,108.9 348.5,108.0 351.0,105.5 353.5,104.5 354.5,104.0 355.0,102.0 356.0,101.5 356.5,98.5 358.5,97.3 359.8,99.5 359.0,102.5 362.0,102.8 365.0,103.2 369.0,102.3 373.5,101.8 375.0,101.0 375.0,98.0 376.5,96.5 378.0,97.0 377.5,95.0 380.0,94.2 384.0,94.2 387.0,93.5 385.0,92.5 381.0,93.0 377.0,92.8 375.5,90.5 374.8,88.0 376.0,86.0 378.0,83.8 376.5,83.5 374.5,85.0 372.5,86.8 369.8,88.8 369.2,91.5 370.2,94.0 368.8,97.0 366.2,99.8 364.0,100.2 363.0,98.0 362.0,95.0 361.5,93.2 359.5,94.6 356.5,95.6 353.5,96.0 351.5,94.5 350.5,91.2 351.5,89.5 354.5,88.0 357.5,86.0 361.0,83.0 364.0,79.0 367.0,76.5 371.0,75.0 376.0,74.2 380.0,74.2 384.0,75.0 386.7,75.7 391.3,77.3 396.7,79.0 400.7,80.3 402.7,81.0 403.3,78.3 407.7,78.3 408.0,80.3 409.7,81.0 410.0,79.7 414.0,78.7 418.0,77.7 421.3,77.0 424.0,76.7 427.2,78.2 433.9,76.2 433.9,72.1 439.2,71.9 441.2,74.1 442.6,78.2 441.9,81.5 445.3,80.8 446.6,78.2 451.3,80.2 453.3,80.2 448.6,76.8 445.9,74.8 442.6,73.5 443.3,72.1 448.6,72.1 454.0,73.5 456.7,74.8 452.6,71.5 449.3,69.4 454.0,66.8 460.7,64.8 467.4,63.8 474.1,63.4 480.8,64.8 487.0,65.4 490.0,65.0 483.0,71.0 496.0,70.0 510.0,70.0 520.0,74.0 530.0,71.0 540.0,73.0 556.0,74.6 562.0,76.0 572.0,76.0 580.0,75.0 588.0,76.0 596.0,81.0 601.0,88.0 598.0,89.4 594.0,93.0 588.0,92.0 582.0,91.0 580.0,92.0 583.0,95.0 586.4,101.0 582.4,108.6 579.0,104.0 575.0,98.0 577.0,94.0 572.0,92.0 569.0,95.0 552.0,95.0 548.0,101.0 547.5,101.7 551.5,102.4 556.2,103.7 557.5,107.1 558.9,112.4 556.9,117.1 554.2,121.1 550.2,121.1 548.2,122.5 548.8,123.8 547.5,126.5 545.5,128.5 547.5,128.5 549.5,130.5 550.8,133.9 548.8,135.9 546.5,134.5 545.7,131.9 545.5,129.2 542.8,128.5 542.1,127.2 538.8,127.8 535.4,126.5 532.7,127.8 536.1,130.5 539.4,130.5 537.4,133.2 536.8,135.9 538.8,138.6 540.8,141.9 541.4,145.3 540.1,148.6 538.8,152.0 538.8,148.1 535.4,152.1 531.4,154.8 527.4,157.5 524.7,155.5 520.7,156.8 519.1,159.5 522.0,163.5 524.7,168.2 524.4,172.9 521.4,176.3 518.7,178.3 518.0,175.6 515.3,174.2 514.0,170.2 512.0,171.6 509.3,170.9 507.9,168.2 508.4,173.6 508.6,177.6 510.6,180.9 511.4,181.8 514.1,183.2 516.1,186.5 517.4,190.5 516.8,193.2 514.7,191.2 512.7,187.8 511.4,185.2 510.1,181.8 508.0,179.8 507.5,178.3 506.6,172.2 505.7,166.9 504.6,164.2 502.6,166.9 500.6,166.2 499.2,161.5 497.2,158.2 495.2,154.8 493.9,156.8 490.5,156.2 489.2,156.8 487.2,160.2 483.8,163.5 479.8,166.2 477.8,169.6 476.4,173.6 475.1,177.6 473.1,180.3 471.8,178.3 469.7,174.2 467.7,169.6 465.7,164.2 464.4,158.8 463.0,155.5 460.4,156.8 457.0,153.5 455.7,153.5 452.3,150.8 446.3,150.6 444.9,150.2 438.9,149.5 434.9,150.8 430.9,148.8 427.5,146.1 424.2,142.8 420.8,144.8 425.5,147.2 428.5,150.2 432.2,151.9 436.2,150.2 438.2,152.2 440.9,154.9 441.6,158.2 438.2,161.6 434.2,164.9 430.9,164.9 426.9,167.6 421.5,169.6 416.8,172.3 415.5,169.9 414.8,167.5 411.8,162.9 408.4,157.9 404.9,151.9 402.1,146.5 400.8,142.5 401.1,141.7 400.0,140.1 400.7,134.7 402.1,132.7 404.7,132.1 404.0,132.0 399.0,133.0 394.0,132.5 389.5,132.0 386.5,130.0 386.0,126.5 387.5,125.0 385.0,124.0 382.0,124.3 381.3,125.7 380.0,126.7 380.7,128.7 381.3,130.0 380.3,131.3 378.7,131.3 377.7,129.7 376.7,128.0 375.7,126.3 374.7,125.3 374.3,123.7 372.7,123.0 370.0,121.0 367.3,119.3 364.7,117.5 364.0,118.0 363.5,119.0 365.1,120.5 367.1,122.2 369.5,123.9 371.5,125.3 371.9,126.5 370.5,126.9 370.2,128.7 368.9,129.8 367.7,128.1 366.4,126.5 364.7,124.9 362.7,123.5 361.1,121.9 359.9,120.4 358.3,120.1 356.0,119.8 355.0,118.3 355.0,120.7 353.3,121.0 351.3,121.7 348.7,121.7 347.0,123.0 346.3,124.7 344.7,126.3 343.3,128.3 342.7,130.3 340.7,131.3 338.0,131.7 335.7,132.7 334.3,132.2 333.7,130.7 330.7,130.7 329.3,129.7 329.7,127.0 330.0,124.3 329.3,122.7Z"/></clipPath>
<path d="M330.0,121.3 332.0,120.3 335.3,120.9 339.3,121.3 342.0,121.7 341.3,119.3 341.7,117.0 340.3,115.0 338.7,114.0 337.0,113.0 339.3,112.0 341.3,111.7 342.0,110.7 343.7,111.0 345.3,109.7 348.0,108.9 348.5,108.0 351.0,105.5 353.5,104.5 354.5,104.0 355.0,102.0 356.0,101.5 356.5,98.5 358.5,97.3 359.8,99.5 359.0,102.5 362.0,102.8 365.0,103.2 369.0,102.3 373.5,101.8 375.0,101.0 375.0,98.0 376.5,96.5 378.0,97.0 377.5,95.0 380.0,94.2 384.0,94.2 387.0,93.5 385.0,92.5 381.0,93.0 377.0,92.8 375.5,90.5 374.8,88.0 376.0,86.0 378.0,83.8 376.5,83.5 374.5,85.0 372.5,86.8 369.8,88.8 369.2,91.5 370.2,94.0 368.8,97.0 366.2,99.8 364.0,100.2 363.0,98.0 362.0,95.0 361.5,93.2 359.5,94.6 356.5,95.6 353.5,96.0 351.5,94.5 350.5,91.2 351.5,89.5 354.5,88.0 357.5,86.0 361.0,83.0 364.0,79.0 367.0,76.5 371.0,75.0 376.0,74.2 380.0,74.2 384.0,75.0 386.7,75.7 391.3,77.3 396.7,79.0 400.7,80.3 402.7,81.0 403.3,78.3 407.7,78.3 408.0,80.3 409.7,81.0 410.0,79.7 414.0,78.7 418.0,77.7 421.3,77.0 424.0,76.7 427.2,78.2 433.9,76.2 433.9,72.1 439.2,71.9 441.2,74.1 442.6,78.2 441.9,81.5 445.3,80.8 446.6,78.2 451.3,80.2 453.3,80.2 448.6,76.8 445.9,74.8 442.6,73.5 443.3,72.1 448.6,72.1 454.0,73.5 456.7,74.8 452.6,71.5 449.3,69.4 454.0,66.8 460.7,64.8 467.4,63.8 474.1,63.4 480.8,64.8 487.0,65.4 490.0,65.0 483.0,71.0 496.0,70.0 510.0,70.0 520.0,74.0 530.0,71.0 540.0,73.0 556.0,74.6 562.0,76.0 572.0,76.0 580.0,75.0 588.0,76.0 596.0,81.0 601.0,88.0 598.0,89.4 594.0,93.0 588.0,92.0 582.0,91.0 580.0,92.0 583.0,95.0 586.4,101.0 582.4,108.6 579.0,104.0 575.0,98.0 577.0,94.0 572.0,92.0 569.0,95.0 552.0,95.0 548.0,101.0 547.5,101.7 551.5,102.4 556.2,103.7 557.5,107.1 558.9,112.4 556.9,117.1 554.2,121.1 550.2,121.1 548.2,122.5 548.8,123.8 547.5,126.5 545.5,128.5 547.5,128.5 549.5,130.5 550.8,133.9 548.8,135.9 546.5,134.5 545.7,131.9 545.5,129.2 542.8,128.5 542.1,127.2 538.8,127.8 535.4,126.5 532.7,127.8 536.1,130.5 539.4,130.5 537.4,133.2 536.8,135.9 538.8,138.6 540.8,141.9 541.4,145.3 540.1,148.6 538.8,152.0 538.8,148.1 535.4,152.1 531.4,154.8 527.4,157.5 524.7,155.5 520.7,156.8 519.1,159.5 522.0,163.5 524.7,168.2 524.4,172.9 521.4,176.3 518.7,178.3 518.0,175.6 515.3,174.2 514.0,170.2 512.0,171.6 509.3,170.9 507.9,168.2 508.4,173.6 508.6,177.6 510.6,180.9 511.4,181.8 514.1,183.2 516.1,186.5 517.4,190.5 516.8,193.2 514.7,191.2 512.7,187.8 511.4,185.2 510.1,181.8 508.0,179.8 507.5,178.3 506.6,172.2 505.7,166.9 504.6,164.2 502.6,166.9 500.6,166.2 499.2,161.5 497.2,158.2 495.2,154.8 493.9,156.8 490.5,156.2 489.2,156.8 487.2,160.2 483.8,163.5 479.8,166.2 477.8,169.6 476.4,173.6 475.1,177.6 473.1,180.3 471.8,178.3 469.7,174.2 467.7,169.6 465.7,164.2 464.4,158.8 463.0,155.5 460.4,156.8 457.0,153.5 455.7,153.5 452.3,150.8 446.3,150.6 444.9,150.2 438.9,149.5 434.9,150.8 430.9,148.8 427.5,146.1 424.2,142.8 420.8,144.8 425.5,147.2 428.5,150.2 432.2,151.9 436.2,150.2 438.2,152.2 440.9,154.9 441.6,158.2 438.2,161.6 434.2,164.9 430.9,164.9 426.9,167.6 421.5,169.6 416.8,172.3 415.5,169.9 414.8,167.5 411.8,162.9 408.4,157.9 404.9,151.9 402.1,146.5 400.8,142.5 401.1,141.7 400.0,140.1 400.7,134.7 402.1,132.7 404.7,132.1 404.0,132.0 399.0,133.0 394.0,132.5 389.5,132.0 386.5,130.0 386.0,126.5 387.5,125.0 385.0,124.0 382.0,124.3 381.3,125.7 380.0,126.7 380.7,128.7 381.3,130.0 380.3,131.3 378.7,131.3 377.7,129.7 376.7,128.0 375.7,126.3 374.7,125.3 374.3,123.7 372.7,123.0 370.0,121.0 367.3,119.3 364.7,117.5 364.0,118.0 363.5,119.0 365.1,120.5 367.1,122.2 369.5,123.9 371.5,125.3 371.9,126.5 370.5,126.9 370.2,128.7 368.9,129.8 367.7,128.1 366.4,126.5 364.7,124.9 362.7,123.5 361.1,121.9 359.9,120.4 358.3,120.1 356.0,119.8 355.0,118.3 355.0,120.7 353.3,121.0 351.3,121.7 348.7,121.7 347.0,123.0 346.3,124.7 344.7,126.3 343.3,128.3 342.7,130.3 340.7,131.3 338.0,131.7 335.7,132.7 334.3,132.2 333.7,130.7 330.7,130.7 329.3,129.7 329.7,127.0 330.0,124.3 329.3,122.7Z" fill="#A80000"/>
<g clip-path="url(#cEA)">
<path d="M385.0,73.5 384.0,75.0 383.0,76.5 380.0,77.0 377.0,78.0 374.5,77.5 372.5,78.0 369.5,79.5 367.0,80.5 365.5,83.0 364.5,86.0 362.5,88.0 362.0,91.0 361.5,93.2 361.0,95.5 355.0,97.5 349.0,96.0 349.0,90.0 360.0,81.0 366.0,75.0 375.0,73.0Z" fill="#FF5500" stroke="#000" stroke-width="1" stroke-linejoin="round"/>
<path d="M355.0,98.0 360.0,96.5 361.0,100.0 360.0,103.0 358.2,102.8 356.2,102.2 355.5,101.5Z" fill="#FF5500" stroke="#000" stroke-width="1" stroke-linejoin="round"/>
<path d="M354.5,104.2 356.2,102.2 358.2,102.8 362.0,102.8 365.0,103.2 365.5,107.2 364.5,110.0 363.0,112.5 360.0,113.5 356.5,113.0 354.5,111.0 354.0,108.5 353.5,106.5Z" fill="#FF5500" stroke="#000" stroke-width="1" stroke-linejoin="round"/>
<path d="M350.0,106.5 351.0,104.5 354.5,103.5 354.0,108.0 351.5,108.0Z" fill="#FF5500" stroke="#000" stroke-width="1" stroke-linejoin="round"/>
<path d="M328.7,121.0 332.0,119.7 335.3,120.5 339.3,121.0 342.0,121.7 344.3,122.5 347.0,123.0 348.0,124.3 344.0,131.7 336.0,133.7 328.7,131.7Z" fill="#FFAA00" stroke="#000" stroke-width="1" stroke-linejoin="round"/>
<path d="M328.0,124.0 332.3,123.7 332.7,126.3 332.3,129.0 332.7,130.7 330.7,131.3 328.0,130.3Z" fill="#FF5500" stroke="#000" stroke-width="1" stroke-linejoin="round"/>
<path d="M354.7,118.7 356.0,117.0 356.7,116.7 359.3,116.0 362.0,115.7 364.3,116.3 365.0,117.5 365.3,120.0 372.3,125.0 372.5,127.7 369.0,130.8 358.7,121.7 355.0,120.8Z" fill="#FFAA00" stroke="#000" stroke-width="1" stroke-linejoin="round"/>
<path d="M377.0,115.7 378.7,114.3 382.0,114.0 385.3,114.3 387.3,116.0 388.8,118.0 386.7,119.0 384.7,119.7 382.0,120.0 379.7,119.3 378.3,118.0Z" fill="#FF5500" stroke="#000" stroke-width="1" stroke-linejoin="round"/>
<path d="M380.0,120.7 382.3,120.3 385.3,120.0 387.7,120.0 388.8,121.3 386.7,122.7 384.0,123.3 381.7,123.3 380.3,122.3Z" fill="#FF5500" stroke="#000" stroke-width="1" stroke-linejoin="round"/>
<path d="M374.3,123.3 376.3,123.0 377.7,124.3 380.0,124.0 382.0,124.3 382.7,125.3 382.0,132.0 378.0,132.0 374.0,125.7Z" fill="#FFAA00" stroke="#000" stroke-width="1" stroke-linejoin="round"/>
<path d="M369.9,119.0 372.0,118.7 373.2,119.7 372.8,120.8 371.0,120.7Z" fill="#FF5500" stroke="#000" stroke-width="1" stroke-linejoin="round"/>
<path d="M385.5,123.5 389.0,124.5 394.0,123.2 399.0,122.8 403.0,123.9 408.2,123.6 409.5,124.5 414.0,125.0 415.0,127.5 415.5,129.5 414.1,132.7 409.4,131.4 404.7,132.1 404.0,133.0 399.0,134.0 394.0,133.5 389.5,133.0 385.5,130.5Z" fill="#FF5500" stroke="#000" stroke-width="1" stroke-linejoin="round"/>
<path d="M408.2,123.6 409.5,122.2 415.0,122.8 419.0,124.2 418.5,125.2 414.0,125.0 409.5,124.5Z" fill="#FF5500" stroke="#000" stroke-width="1" stroke-linejoin="round"/>
<path d="M404.7,132.1 409.4,131.4 414.1,132.7 416.1,130.1 415.5,129.5 415.5,127.5 418.5,125.2 420.5,124.5 422.5,127.0 422.0,129.0 426.0,131.5 428.5,130.0 430.0,129.5 434.0,129.0 438.0,130.0 441.5,132.5 441.5,135.0 442.5,140.0 444.0,143.5 448.0,142.5 452.0,140.5 455.0,139.0 457.0,136.0 457.5,132.5 460.0,131.5 462.0,135.0 464.0,138.0 461.7,143.4 458.4,146.8 459.0,149.4 457.7,152.8 455.0,156.2 445.6,154.9 442.9,160.2 436.2,166.9 425.5,173.6 414.8,173.6 412.1,164.2 400.0,142.8 399.4,140.1 400.0,134.7 402.1,132.7Z" fill="#FFEBAF" stroke="#000" stroke-width="1" stroke-linejoin="round"/>
<path d="M413.4,165.3 415.9,165.0 422.0,163.0 429.0,162.0 430.9,164.9 432.2,166.9 418.8,174.3 412.1,171.6Z" fill="#FF5500" stroke="#000" stroke-width="1" stroke-linejoin="round"/>
<path d="M441.5,135.0 444.0,134.0 446.0,132.0 449.0,131.5 451.0,130.0 454.5,130.0 458.0,130.0 460.0,131.5 457.5,132.5 457.0,136.0 455.0,139.0 452.0,140.5 448.0,142.5 444.0,143.5 442.5,140.0Z" fill="#FF5500" stroke="#000" stroke-width="1" stroke-linejoin="round"/>
<path d="M427.0,124.0 430.0,123.0 432.5,123.5 435.0,123.0 439.0,124.5 442.5,125.5 446.0,127.5 448.5,128.5 451.0,130.0 449.0,131.5 446.0,132.0 444.0,134.0 441.5,135.0 441.5,132.5 438.0,130.0 434.0,129.0 430.0,129.5 428.5,130.0 426.5,127.0 425.5,125.0Z" fill="#FF5500" stroke="#000" stroke-width="1" stroke-linejoin="round"/>
<path d="M431.5,118.5 435.0,117.5 438.0,120.0 443.0,121.0 446.0,122.0 449.0,124.5 452.0,126.0 454.5,125.0 453.0,128.0 451.0,130.0 448.5,128.5 446.0,127.5 442.5,125.5 439.0,124.5 435.0,123.0 432.5,123.5 431.5,121.0Z" fill="#FF5500" stroke="#000" stroke-width="1" stroke-linejoin="round"/>
<path d="M454.5,123.5 458.5,122.0 463.0,122.0 468.0,123.0 465.0,124.5 462.0,125.5 459.0,126.5 456.0,125.5 454.5,125.0Z" fill="#FF5500" stroke="#000" stroke-width="1" stroke-linejoin="round"/>
<path d="M453.0,128.0 454.5,125.0 456.0,125.5 459.0,126.5 462.0,127.5 461.5,129.5 458.0,130.0 454.5,130.0 451.0,130.0Z" fill="#FFAA00" stroke="#000" stroke-width="1" stroke-linejoin="round"/>
<path d="M462.0,127.5 465.0,124.5 468.0,123.0 471.0,117.0 474.0,114.0 478.0,112.0 483.0,116.0 494.0,121.0 508.0,124.0 518.0,119.0 520.0,117.1 522.7,115.8 527.4,114.4 524.7,111.8 522.0,111.1 524.7,108.4 526.7,105.1 530.7,104.1 534.7,107.1 538.8,109.7 544.1,111.8 548.8,112.4 551.5,113.8 550.8,117.1 548.2,119.1 548.4,122.5 547.5,123.2 544.1,124.5 542.1,126.5 538.8,129.9 546.8,148.6 546.8,156.7 546.2,154.8 530.1,160.2 522.0,160.2 520.7,156.8 518.0,154.1 514.7,154.8 511.3,155.5 508.6,156.8 506.6,154.1 504.6,150.8 503.3,146.8 499.9,144.8 496.6,146.1 493.2,148.1 490.1,148.1 487.8,148.1 483.8,146.8 478.5,144.8 474.4,143.0 468.4,138.7 472.5,136.0 472.0,134.0 469.0,133.5 464.0,132.0 460.0,131.2 461.5,129.5Z" fill="#FFAA00" stroke="#000" stroke-width="1" stroke-linejoin="round"/>
<path d="M460.0,131.5 464.0,132.0 469.0,133.5 472.0,134.0 472.5,136.0 470.0,138.0 467.0,139.5 464.0,138.0 462.0,135.0Z" fill="#CCCCCC" stroke="#000" stroke-width="1" stroke-linejoin="round"/>
<path d="M542.1,126.5 544.1,124.5 547.5,123.2 548.8,123.8 547.5,126.5 545.5,128.5 542.8,128.5Z" fill="#FF5500" stroke="#000" stroke-width="1" stroke-linejoin="round"/>
<path d="M474.4,143.0 478.5,144.8 483.8,146.8 487.8,148.1 487.8,149.4 483.8,148.8 479.1,147.4 475.1,145.4Z" fill="#FF5500" stroke="#000" stroke-width="1" stroke-linejoin="round"/>
<path d="M490.1,148.1 493.2,148.1 493.9,149.4 490.5,149.7Z" fill="#FF5500" stroke="#000" stroke-width="1" stroke-linejoin="round"/>
<path d="M488.5,150.1 492.5,150.1 493.9,153.5 493.2,157.5 489.9,157.5 489.2,153.5Z" fill="#FFAA00" stroke="#000" stroke-width="1" stroke-linejoin="round"/>
<path d="M499.9,144.8 503.3,146.8 504.6,150.8 506.6,154.1 508.6,156.8 506.6,159.5 504.9,162.2 505.7,166.9 506.6,172.2 507.5,178.3 505.3,178.9 502.6,168.2 499.9,167.5 497.9,161.5 495.9,158.2 494.5,155.5 497.2,152.1 499.2,149.4 501.2,146.8Z" fill="#FFAA00" stroke="#000" stroke-width="1" stroke-linejoin="round"/>
<path d="M508.6,156.8 511.3,155.5 514.7,156.8 518.0,158.2 517.3,160.2 519.3,164.2 520.7,168.2 518.7,168.9 517.3,164.9 516.0,161.5 511.3,162.2 509.3,160.2 506.6,159.5Z" fill="#FF5500" stroke="#000" stroke-width="1" stroke-linejoin="round"/>
<path d="M514.7,154.8 518.0,154.1 520.7,156.8 523.4,160.2 526.0,168.2 525.4,173.6 521.4,176.9 518.0,178.9 517.3,175.6 521.4,172.9 520.7,168.9 520.7,168.2 519.3,164.2 517.3,160.2 518.0,158.2 514.7,156.8Z" fill="#FF5500" stroke="#000" stroke-width="1" stroke-linejoin="round"/>
<path d="M514.0,170.2 517.3,168.9 520.7,168.9 521.4,172.9 518.0,175.6 514.7,174.9 512.6,172.2Z" fill="#FFAA00" stroke="#000" stroke-width="1" stroke-linejoin="round"/>
<path d="M510.5,182.9 514.1,183.2 516.1,186.5 518.1,190.5 517.2,194.1 514.1,192.3 511.8,187.8 510.5,185.2Z" fill="#FFAA00" stroke="#000" stroke-width="1" stroke-linejoin="round"/>
<path d="M478.0,111.0 492.0,107.0 500.0,109.0 514.0,110.0 523.0,112.0 522.9,112.0" fill="none" stroke="#000" stroke-width="1" stroke-linejoin="round"/>
<path d="M419.5,116.0 417.5,114.0 415.5,112.5 415.5,110.0 419.0,108.5 422.5,107.5 427.0,108.5 430.0,109.5 434.0,108.5 437.0,109.0 436.6,104.3 440.6,101.6 447.3,100.3 454.0,102.3 458.0,103.0 463.4,105.6 467.4,108.3 478.0,112.0" fill="none" stroke="#000" stroke-width="1" stroke-linejoin="round"/>
<path d="M377.0,78.0 377.5,81.0 378.0,83.5" fill="none" stroke="#000" stroke-width="1" stroke-linejoin="round"/>
<path d="M383.3,75.0 384.3,78.7 384.7,81.3 386.0,84.7 387.0,87.3 388.0,89.0 386.0,91.3 384.3,93.3" fill="none" stroke="#000" stroke-width="1" stroke-linejoin="round"/>
<path d="M377.5,97.0 381.0,96.5 384.5,97.8" fill="none" stroke="#000" stroke-width="1" stroke-linejoin="round"/>
<path d="M375.0,100.2 379.0,99.8 382.5,100.5 385.0,101.5" fill="none" stroke="#000" stroke-width="1" stroke-linejoin="round"/>
<path d="M375.0,102.0 379.0,103.5 382.0,102.5 385.0,101.5" fill="none" stroke="#000" stroke-width="1" stroke-linejoin="round"/>
<path d="M384.0,94.2 384.5,98.0 385.0,101.5 387.0,99.0 389.0,101.5 392.0,104.0 392.5,105.5 396.0,107.5 399.0,110.0 403.0,110.5 405.5,111.5 404.5,114.0 402.0,115.5" fill="none" stroke="#000" stroke-width="1" stroke-linejoin="round"/>
<path d="M379.0,103.5 380.0,107.0 379.0,110.0" fill="none" stroke="#000" stroke-width="1" stroke-linejoin="round"/>
<path d="M365.5,108.0 369.0,109.5 374.0,110.5 378.0,110.0 379.5,107.5 385.0,107.2 388.0,106.0 392.5,105.5" fill="none" stroke="#000" stroke-width="1" stroke-linejoin="round"/>
<path d="M355.0,120.7 354.3,118.0 354.7,116.0 354.0,114.3 353.3,113.0" fill="none" stroke="#000" stroke-width="1" stroke-linejoin="round"/>
<path d="M348.0,108.9 350.0,109.7 352.7,110.7 353.7,111.7" fill="none" stroke="#000" stroke-width="1" stroke-linejoin="round"/>
<path d="M354.0,114.5 358.5,114.0 360.0,113.5 365.0,113.0 369.5,114.0 369.0,116.0 365.0,116.5" fill="none" stroke="#000" stroke-width="1" stroke-linejoin="round"/>
<path d="M364.5,110.0 369.0,109.5 372.0,111.0 369.5,112.8 365.0,112.2" fill="none" stroke="#000" stroke-width="1" stroke-linejoin="round"/>
<path d="M369.5,114.0 372.0,112.5 378.0,112.5 379.5,111.0 378.0,110.0" fill="none" stroke="#000" stroke-width="1" stroke-linejoin="round"/>
<path d="M369.5,116.0 374.0,116.5 377.0,115.0" fill="none" stroke="#000" stroke-width="1" stroke-linejoin="round"/>
<path d="M373.5,116.5 374.0,120.0 375.0,122.5" fill="none" stroke="#000" stroke-width="1" stroke-linejoin="round"/>
<path d="M379.0,119.5 380.0,120.5 381.0,123.5 376.2,124.0" fill="none" stroke="#000" stroke-width="1" stroke-linejoin="round"/>
<path d="M387.0,116.0 389.5,115.0 391.0,116.5" fill="none" stroke="#000" stroke-width="1" stroke-linejoin="round"/>
<path d="M405.4,137.4 408.8,138.1 412.1,135.4 414.1,132.7" fill="none" stroke="#000" stroke-width="1" stroke-linejoin="round"/>
<path d="M408.8,138.1 412.1,138.8 417.5,141.4 420.8,144.8" fill="none" stroke="#000" stroke-width="1" stroke-linejoin="round"/>
<path d="M414.1,132.7 418.8,133.4 422.2,138.8 424.2,142.8" fill="none" stroke="#000" stroke-width="1" stroke-linejoin="round"/>
<path d="M401.4,142.1 402.1,140.1 405.4,138.8 405.4,137.4 401.1,136.8" fill="none" stroke="#000" stroke-width="1" stroke-linejoin="round"/>
<path d="M432.2,152.8 434.9,155.5 433.6,159.5 429.5,161.6" fill="none" stroke="#000" stroke-width="1" stroke-linejoin="round"/>
<path d="M434.9,155.5 438.2,152.2" fill="none" stroke="#000" stroke-width="1" stroke-linejoin="round"/>
<path d="M444.3,143.5 446.3,147.5 444.9,150.2" fill="none" stroke="#000" stroke-width="1" stroke-linejoin="round"/>
<path d="M441.5,135.0 442.5,140.0 444.0,143.5" fill="none" stroke="#000" stroke-width="1" stroke-linejoin="round"/>
<path d="M420.8,144.8 422.6,145.7" fill="none" stroke="#000" stroke-width="1" stroke-linejoin="round"/>
</g>
<path d="M330.0,121.3 332.0,120.3 335.3,120.9 339.3,121.3 342.0,121.7 341.3,119.3 341.7,117.0 340.3,115.0 338.7,114.0 337.0,113.0 339.3,112.0 341.3,111.7 342.0,110.7 343.7,111.0 345.3,109.7 348.0,108.9 348.5,108.0 351.0,105.5 353.5,104.5 354.5,104.0 355.0,102.0 356.0,101.5 356.5,98.5 358.5,97.3 359.8,99.5 359.0,102.5 362.0,102.8 365.0,103.2 369.0,102.3 373.5,101.8 375.0,101.0 375.0,98.0 376.5,96.5 378.0,97.0 377.5,95.0 380.0,94.2 384.0,94.2 387.0,93.5 385.0,92.5 381.0,93.0 377.0,92.8 375.5,90.5 374.8,88.0 376.0,86.0 378.0,83.8 376.5,83.5 374.5,85.0 372.5,86.8 369.8,88.8 369.2,91.5 370.2,94.0 368.8,97.0 366.2,99.8 364.0,100.2 363.0,98.0 362.0,95.0 361.5,93.2 359.5,94.6 356.5,95.6 353.5,96.0 351.5,94.5 350.5,91.2 351.5,89.5 354.5,88.0 357.5,86.0 361.0,83.0 364.0,79.0 367.0,76.5 371.0,75.0 376.0,74.2 380.0,74.2 384.0,75.0 386.7,75.7 391.3,77.3 396.7,79.0 400.7,80.3 402.7,81.0 403.3,78.3 407.7,78.3 408.0,80.3 409.7,81.0 410.0,79.7 414.0,78.7 418.0,77.7 421.3,77.0 424.0,76.7 427.2,78.2 433.9,76.2 433.9,72.1 439.2,71.9 441.2,74.1 442.6,78.2 441.9,81.5 445.3,80.8 446.6,78.2 451.3,80.2 453.3,80.2 448.6,76.8 445.9,74.8 442.6,73.5 443.3,72.1 448.6,72.1 454.0,73.5 456.7,74.8 452.6,71.5 449.3,69.4 454.0,66.8 460.7,64.8 467.4,63.8 474.1,63.4 480.8,64.8 487.0,65.4 490.0,65.0 483.0,71.0 496.0,70.0 510.0,70.0 520.0,74.0 530.0,71.0 540.0,73.0 556.0,74.6 562.0,76.0 572.0,76.0 580.0,75.0 588.0,76.0 596.0,81.0 601.0,88.0 598.0,89.4 594.0,93.0 588.0,92.0 582.0,91.0 580.0,92.0 583.0,95.0 586.4,101.0 582.4,108.6 579.0,104.0 575.0,98.0 577.0,94.0 572.0,92.0 569.0,95.0 552.0,95.0 548.0,101.0 547.5,101.7 551.5,102.4 556.2,103.7 557.5,107.1 558.9,112.4 556.9,117.1 554.2,121.1 550.2,121.1 548.2,122.5 548.8,123.8 547.5,126.5 545.5,128.5 547.5,128.5 549.5,130.5 550.8,133.9 548.8,135.9 546.5,134.5 545.7,131.9 545.5,129.2 542.8,128.5 542.1,127.2 538.8,127.8 535.4,126.5 532.7,127.8 536.1,130.5 539.4,130.5 537.4,133.2 536.8,135.9 538.8,138.6 540.8,141.9 541.4,145.3 540.1,148.6 538.8,152.0 538.8,148.1 535.4,152.1 531.4,154.8 527.4,157.5 524.7,155.5 520.7,156.8 519.1,159.5 522.0,163.5 524.7,168.2 524.4,172.9 521.4,176.3 518.7,178.3 518.0,175.6 515.3,174.2 514.0,170.2 512.0,171.6 509.3,170.9 507.9,168.2 508.4,173.6 508.6,177.6 510.6,180.9 511.4,181.8 514.1,183.2 516.1,186.5 517.4,190.5 516.8,193.2 514.7,191.2 512.7,187.8 511.4,185.2 510.1,181.8 508.0,179.8 507.5,178.3 506.6,172.2 505.7,166.9 504.6,164.2 502.6,166.9 500.6,166.2 499.2,161.5 497.2,158.2 495.2,154.8 493.9,156.8 490.5,156.2 489.2,156.8 487.2,160.2 483.8,163.5 479.8,166.2 477.8,169.6 476.4,173.6 475.1,177.6 473.1,180.3 471.8,178.3 469.7,174.2 467.7,169.6 465.7,164.2 464.4,158.8 463.0,155.5 460.4,156.8 457.0,153.5 455.7,153.5 452.3,150.8 446.3,150.6 444.9,150.2 438.9,149.5 434.9,150.8 430.9,148.8 427.5,146.1 424.2,142.8 420.8,144.8 425.5,147.2 428.5,150.2 432.2,151.9 436.2,150.2 438.2,152.2 440.9,154.9 441.6,158.2 438.2,161.6 434.2,164.9 430.9,164.9 426.9,167.6 421.5,169.6 416.8,172.3 415.5,169.9 414.8,167.5 411.8,162.9 408.4,157.9 404.9,151.9 402.1,146.5 400.8,142.5 401.1,141.7 400.0,140.1 400.7,134.7 402.1,132.7 404.7,132.1 404.0,132.0 399.0,133.0 394.0,132.5 389.5,132.0 386.5,130.0 386.0,126.5 387.5,125.0 385.0,124.0 382.0,124.3 381.3,125.7 380.0,126.7 380.7,128.7 381.3,130.0 380.3,131.3 378.7,131.3 377.7,129.7 376.7,128.0 375.7,126.3 374.7,125.3 374.3,123.7 372.7,123.0 370.0,121.0 367.3,119.3 364.7,117.5 364.0,118.0 363.5,119.0 365.1,120.5 367.1,122.2 369.5,123.9 371.5,125.3 371.9,126.5 370.5,126.9 370.2,128.7 368.9,129.8 367.7,128.1 366.4,126.5 364.7,124.9 362.7,123.5 361.1,121.9 359.9,120.4 358.3,120.1 356.0,119.8 355.0,118.3 355.0,120.7 353.3,121.0 351.3,121.7 348.7,121.7 347.0,123.0 346.3,124.7 344.7,126.3 343.3,128.3 342.7,130.3 340.7,131.3 338.0,131.7 335.7,132.7 334.3,132.2 333.7,130.7 330.7,130.7 329.3,129.7 329.7,127.0 330.0,124.3 329.3,122.7Z" fill="none" stroke="#000" stroke-width="1.2" stroke-linejoin="round"/>
<path d="M201.7,114.4 205.7,112.4 209.7,111.8 212.4,113.8 213.1,115.4 209.1,115.8 205.1,115.4Z" fill="#fff" stroke="#000" stroke-width="0.6" stroke-linejoin="round"/>
<path d="M206.8,116.4 208.7,117.1 208.4,121.1 207.3,123.2 206.0,121.8 206.3,118.5Z" fill="#fff" stroke="#000" stroke-width="0.6" stroke-linejoin="round"/>
<path d="M210.8,116.4 215.1,117.1 219.1,117.8 219.8,119.1 216.4,120.2 215.1,122.5 213.1,123.8 212.2,121.1 211.4,118.9Z" fill="#fff" stroke="#000" stroke-width="0.6" stroke-linejoin="round"/>
<path d="M253.6,63.4 261.0,60.0 270.0,57.4 282.0,55.0 298.0,54.0 312.0,54.0 322.0,53.4 323.0,55.4 330.0,57.4 327.0,59.4 322.0,58.6 323.0,62.0 320.0,65.0 316.0,65.0 317.0,68.6 318.0,72.0 312.0,73.0 311.0,76.0 306.0,77.0 300.0,78.6 295.0,82.0 290.0,86.0 286.0,90.0 281.6,93.6 277.0,92.6 273.0,90.0 269.6,85.0 269.0,80.0 271.0,76.6 270.4,73.0 267.0,69.0 263.0,66.0 257.0,65.4Z" fill="#EEEEEE" stroke="#000" stroke-width="1.2" stroke-linejoin="round"/>
<path d="M89.6,84.0 95.0,79.0 98.0,78.0 101.0,81.0 105.0,82.0 103.6,84.0 99.0,85.0 96.0,86.4 92.0,85.0Z" fill="#A80000" stroke="#000" stroke-width="1.2" stroke-linejoin="round"/>
<path d="M101.6,74.0 103.6,73.4 104.8,74.4 102.8,75.2Z" fill="#A80000" stroke="#000" stroke-width="1.2" stroke-linejoin="round"/>
<path d="M83.0,103.4 87.6,102.8 88.0,104.2 83.4,104.6Z" fill="#A80000" stroke="#000" stroke-width="1.2" stroke-linejoin="round"/>
<path d="M89.0,101.6 91.6,101.2 91.8,102.4 89.2,102.6Z" fill="#A80000" stroke="#000" stroke-width="1.2" stroke-linejoin="round"/>
<path d="M205.0,154.8 208.3,154.1 212.3,155.2 216.4,156.8 220.4,158.4 221.5,159.8 217.7,159.5 213.7,158.2 209.7,157.1 206.3,156.8 204.3,156.1Z" fill="#A80000" stroke="#000" stroke-width="1.2" stroke-linejoin="round"/>
<path d="M213.7,161.9 217.4,161.9 217.7,162.8 214.0,162.8Z" fill="#A80000" stroke="#000" stroke-width="1.2" stroke-linejoin="round"/>
<path d="M221.1,160.8 225.1,160.3 229.1,161.1 230.0,162.2 227.1,162.8 223.1,162.6 221.3,161.9Z" fill="#A80000" stroke="#000" stroke-width="1.2" stroke-linejoin="round"/>
<path d="M232.7,161.9 235.1,161.9 235.1,162.7 232.7,162.7Z" fill="#A80000" stroke="#000" stroke-width="1.2" stroke-linejoin="round"/>
<path d="M215.4,151.2 216.4,150.9 216.9,152.8 216.0,153.1Z" fill="#000" stroke="#000" stroke-width="0.4" stroke-linejoin="round"/>
<path d="M224.7,156.5 226.4,156.8 226.3,157.5 224.5,157.2Z" fill="#000" stroke="#000" stroke-width="0.4" stroke-linejoin="round"/>
<path d="M252.0,279.6 254.3,278.5 257.0,279.2 255.0,280.9 252.5,280.7Z" fill="#000" stroke="#000" stroke-width="0.4" stroke-linejoin="round"/>
<path d="M396.4,193.8 399.1,193.2 400.5,195.2 398.5,197.2 396.4,196.5Z" fill="#fff" stroke="#000" stroke-width="0.6"/>
<path d="M384.4,178.4 388.4,176.5 392.4,177.2 396.4,174.5 399.8,173.8 400.7,177.1" fill="none" stroke="#fff" stroke-width="1.1"/>
<path d="M399.1,156.2 401.4,155.5 402.4,154.5" fill="none" stroke="#fff" stroke-width="0.9"/>
<circle cx="389.2" cy="242.3" r="1.2" fill="#A80000" stroke="#000" stroke-width="0.7"/>
<path d="M394.9,236.8 396.5,236.8 396.5,238.4 394.9,238.4Z" fill="#000" stroke="#000" stroke-width="0.3" stroke-linejoin="round"/>
<path d="M425.4,213.8 427.0,218.5 425.4,223.2 423.4,228.5 421.4,233.2 418.1,235.9 415.4,233.9 414.7,229.9 416.7,223.8 418.1,220.5 421.4,218.5 424.1,215.1Z" fill="#FF5500" stroke="#000" stroke-width="1.2" stroke-linejoin="round"/>
<path d="M415.0,212.7 417.1,212.7 417.1,214.0 415.0,214.0Z" fill="#000" stroke="#000" stroke-width="0.3" stroke-linejoin="round"/>
<path d="M433.9,227.8 435.6,227.8 435.6,229.3 433.9,229.3Z" fill="#000" stroke="#000" stroke-width="0.3" stroke-linejoin="round"/>
<circle cx="436.5" cy="200.5" r="1.4" fill="#A80000" stroke="#000" stroke-width="0.7"/>
<circle cx="464.5" cy="185.7" r="1.4" fill="#FFEBAF" stroke="#000" stroke-width="0.7"/>
<circle cx="355.0" cy="192.5" r="1.4" fill="#FFEBAF" stroke="#000" stroke-width="0.7"/>
<path d="M388.0,122.0 389.0,119.5 388.5,116.8 392.0,116.2 395.0,117.5 397.0,118.5 400.0,116.8 402.2,116.8 402.6,119.0 406.5,121.0 409.0,122.5 408.2,123.6 403.0,123.9 397.0,123.6 393.0,124.1 389.5,124.2Z" fill="#fff" stroke="#000" stroke-width="0.8" stroke-linejoin="round"/>
<path d="M418.0,117.5 420.0,116.0 423.5,115.0 425.5,115.5 425.0,117.5 422.5,118.5 421.5,120.5 423.5,123.5 426.0,126.0 426.5,127.0 428.5,130.0 426.0,131.5 423.0,130.0 421.0,126.5 420.0,123.0 419.0,120.0Z" fill="#fff" stroke="#000" stroke-width="0.8" stroke-linejoin="round"/>
<path d="M434.5,116.5 437.5,116.8 437.2,119.0 434.8,118.8Z" fill="#000" stroke="#000" stroke-width="0.3" stroke-linejoin="round"/>
<path d="M393.0,83.0 395.3,83.5 398.7,83.7 399.3,85.0 397.3,85.3 395.7,86.0 394.0,85.0Z" fill="#fff" stroke="#000" stroke-width="0.7" stroke-linejoin="round"/>
<path d="M389.3,81.7 393.0,83.0" fill="none" stroke="#000" stroke-width="0.9" stroke-linecap="round"/>
<path d="M399.3,83.9 401.3,81.9" fill="none" stroke="#000" stroke-width="0.9" stroke-linecap="round"/>
<path d="M336.0,97.0 338.5,95.5 340.5,97.0 341.0,100.0 343.0,102.0 345.0,104.5 344.5,107.0 341.0,108.0 337.5,108.0 338.0,106.0 336.5,104.0 337.5,102.0 336.0,100.0Z" fill="#FF5500" stroke="#000" stroke-width="1.2" stroke-linejoin="round"/>
<path d="M328.0,103.4 331.0,101.4 334.4,102.0 335.0,104.6 332.0,106.0 328.4,106.0Z" fill="#A80000" stroke="#000" stroke-width="1.2" stroke-linejoin="round"/>
<path d="M310.4,83.4 314.0,82.2 319.0,82.6 323.0,82.2 324.6,84.6 321.0,86.4 316.0,87.4 312.0,86.0Z" fill="#A80000" stroke="#000" stroke-width="1.2" stroke-linejoin="round"/>
<path d="M356.0,60.0 362.0,58.6 367.0,59.4 365.0,62.0 368.0,64.6 363.0,65.0 360.0,62.6Z" fill="#EEEEEE" stroke="#000" stroke-width="1.2" stroke-linejoin="round"/>
<path d="M368.0,59.4 377.6,58.6 375.0,61.0 371.0,63.4 369.6,61.4Z" fill="#EEEEEE" stroke="#000" stroke-width="1.2" stroke-linejoin="round"/>
<path d="M411.8,72.8 414.4,69.4 418.5,66.1 424.5,64.8 431.2,64.8 427.2,66.8 422.5,68.8 419.1,71.5 418.5,74.1 422.5,75.5 426.5,76.8 421.8,76.4 416.4,75.5 413.1,74.5Z" fill="#A80000" stroke="#000" stroke-width="1.2" stroke-linejoin="round"/>
<path d="M454.0,58.1 458.0,57.1 463.4,58.5 468.1,60.3 474.1,61.4 474.8,63.0 470.1,62.7 464.7,61.4 458.0,60.7 454.7,59.8Z" fill="#A80000" stroke="#000" stroke-width="1.2" stroke-linejoin="round"/>
<path d="M520.4,66.0 528.0,66.6 539.0,67.4 539.0,68.8 528.0,68.2 520.4,67.6Z" fill="#A80000" stroke="#000" stroke-width="1.2" stroke-linejoin="round"/>
<path d="M584.0,74.0 586.0,74.0 586.0,75.4 584.0,75.4Z" fill="#A80000" stroke="#000" stroke-width="0.5" stroke-linejoin="round"/>
<path d="M556.9,103.0 558.9,103.7 560.9,107.1 563.6,110.4 566.2,113.1 566.2,117.1 564.9,117.8 563.6,115.1 562.9,112.4 560.2,109.1 558.2,106.4Z" fill="#A80000" stroke="#000" stroke-width="1.2" stroke-linejoin="round"/>
<path d="M564.2,119.1 567.6,119.8 571.6,119.4 570.3,121.8 567.6,123.2 564.9,122.5 563.6,121.1Z" fill="#A80000" stroke="#000" stroke-width="1.2" stroke-linejoin="round"/>
<path d="M564.9,125.2 567.6,124.5 568.9,128.5 568.5,132.5 566.9,135.2 563.6,135.9 560.2,137.2 556.2,137.6 554.2,135.9 557.5,134.5 561.6,132.5 563.6,130.5 564.2,127.8Z" fill="#A80000" stroke="#000" stroke-width="1.2" stroke-linejoin="round"/>
<path d="M552.2,137.2 555.5,136.6 556.9,138.6 555.1,141.2 552.8,140.6Z" fill="#A80000" stroke="#000" stroke-width="1.2" stroke-linejoin="round"/>
<path d="M477.0,177.3 479.3,179.5 479.9,182.4 478.1,183.5 476.6,181.1Z" fill="#A80000" stroke="#000" stroke-width="0.9" stroke-linejoin="round"/>
<path d="M522.4,159.2 525.6,158.6 526.3,161.4 523.5,162.5Z" fill="#FFAA00" stroke="#000" stroke-width="0.8" stroke-linejoin="round"/>
<path d="M540.5,151.9 542.9,151.2 543.5,154.3 541.5,155.7Z" fill="#FFAA00" stroke="#000" stroke-width="0.8" stroke-linejoin="round"/>
<path d="M356.7,124.7 358.9,124.6 358.9,127.9 357.0,128.2Z" fill="#FFAA00" stroke="#000" stroke-width="0.8" stroke-linejoin="round"/>
<path d="M364.1,129.8 368.2,129.4 368.6,130.7 366.3,131.9 364.5,131.3Z" fill="#FFAA00" stroke="#000" stroke-width="0.8" stroke-linejoin="round"/>
<path d="M357.1,121.3 358.3,121.5 358.2,124.2 357.2,124.1Z" fill="#300" stroke="#000" stroke-width="0.5" stroke-linejoin="round"/>
<path d="M381.3,134.0 385.7,134.1 385.7,135.0 381.5,134.8Z" fill="#000" stroke="#000" stroke-width="0.3" stroke-linejoin="round"/>
<path d="M395.0,134.0 399.0,133.8 399.0,135.0 395.0,135.0Z" fill="#000" stroke="#000" stroke-width="0.3" stroke-linejoin="round"/>
<path d="M348.9,125.7 350.3,125.5 350.5,127.0 349.1,127.1Z" fill="#fff" stroke="#000" stroke-width="0.8" stroke-linejoin="round"/>
<path d="M502.0,184.5 505.4,184.8 509.4,188.5 513.4,192.5 517.4,196.6 520.1,199.9 518.1,201.6 514.7,199.9 510.7,195.9 506.7,190.5 503.4,186.9Z" fill="#FFAA00" stroke="#000" stroke-width="1.2" stroke-linejoin="round"/>
<path d="M526.1,190.5 530.2,189.2 534.2,187.2 536.2,183.8 538.9,181.8 540.9,183.8 540.2,186.5 539.5,189.9 540.2,193.2 538.2,197.2 534.9,199.2 530.8,198.6 527.5,195.9 525.5,192.5Z" fill="#FFAA00" stroke="#000" stroke-width="1.2" stroke-linejoin="round"/>
<path d="M520.1,203.9 524.8,203.3 530.8,204.3 535.1,205.9 532.8,207.3 526.8,206.6 521.4,205.7Z" fill="#FFAA00" stroke="#000" stroke-width="1.2" stroke-linejoin="round"/>
<path d="M542.9,193.9 546.2,193.2 550.3,194.5 548.3,195.9 546.2,195.9 547.6,199.2 548.9,201.9 546.9,201.9 545.6,199.2 544.2,201.9 542.6,201.2 542.2,197.2Z" fill="#FFAA00" stroke="#000" stroke-width="1.2" stroke-linejoin="round"/>
<path d="M544.2,191.2 548.3,190.7 552.3,190.5" fill="none" stroke="#000" stroke-width="1.2" stroke-linecap="round"/>
<path d="M556.3,189.2 558.3,189.2 557.9,195.2 556.0,195.9Z" fill="#FFAA00" stroke="#000" stroke-width="1.2" stroke-linejoin="round"/>
<path d="M553.6,198.6 557.6,198.7 561.7,198.4" fill="none" stroke="#000" stroke-width="1.2" stroke-linecap="round"/>
<path d="M537.5,207.7 540.9,208.4 544.0,208.6" fill="none" stroke="#000" stroke-width="1.2" stroke-linecap="round"/>
<path d="M545.3,207.8 548.3,207.5" fill="none" stroke="#000" stroke-width="1.2" stroke-linecap="round"/>
<path d="M550.3,208.1 554.7,208.6" fill="none" stroke="#000" stroke-width="1.2" stroke-linecap="round"/>
<path d="M555.0,209.3 557.6,210.0 557.0,212.0 555.2,211.0Z" fill="#FFAA00" stroke="#000" stroke-width="1.2" stroke-linejoin="round"/>
<path d="M562.3,194.5 565.7,193.9 567.7,196.6 571.0,196.8 574.4,195.9 579.1,197.2 579.1,207.9 576.4,205.3 573.1,207.3 572.4,205.3 574.4,202.6 569.7,199.9 565.7,198.6 563.0,196.6Z" fill="#FFAA00" stroke="#000" stroke-width="1.2" stroke-linejoin="round"/>
<path d="M579.1,197.2 583.1,199.2 587.8,201.9 591.2,203.9 593.8,207.9 589.1,206.6 585.8,205.9 583.1,207.9 580.4,208.6 579.1,207.9Z" fill="#FF5500" stroke="#000" stroke-width="1.2" stroke-linejoin="round"/>
<path d="M542.2,162.4 545.6,161.7 546.6,165.1 545.6,168.4 547.6,171.1 544.9,170.4 542.9,167.7 541.8,165.1Z" fill="#FFAA00" stroke="#000" stroke-width="1.2" stroke-linejoin="round"/>
<path d="M546.2,172.4 552.3,172.4 552.9,177.1 546.9,176.4Z" fill="#000" stroke="#000" stroke-width="0.3" stroke-linejoin="round"/>
<path d="M550.9,178.5 553.6,177.8 554.7,181.1 552.9,183.8 550.9,182.5Z" fill="#FFAA00" stroke="#000" stroke-width="1.2" stroke-linejoin="round"/>
<path d="M538.2,179.1 542.9,174.4" fill="none" stroke="#000" stroke-width="1.4" stroke-linecap="round"/>
<path d="M529.4,231.1 534.7,228.5 540.1,226.4 544.1,224.4 545.5,221.8 548.8,220.4 551.5,217.7 555.5,217.1 558.9,214.4 562.9,212.4 566.2,213.0 569.6,213.7 570.9,211.7 570.3,215.1 568.9,217.7 572.3,220.4 575.6,222.4 577.6,218.4 579.0,213.7 580.3,211.7 582.3,215.1 584.3,219.1 585.7,223.8 588.4,227.1 591.0,230.5 593.5,234.5 593.7,238.5 593.1,242.5 591.0,246.6 588.4,250.6 585.7,253.9 582.3,255.9 579.0,256.6 575.0,257.9 571.6,257.3 568.3,256.6 566.2,254.6 564.2,251.2 562.9,249.2 561.6,251.2 559.5,249.2 556.2,247.2 551.5,246.6 546.8,247.9 542.1,249.9 536.8,251.2 532.1,251.9 528.7,250.6 530.1,246.6 530.7,242.5 529.4,238.5 528.3,235.8 529.1,233.2Z" fill="#A80000" stroke="#000" stroke-width="1.2" stroke-linejoin="round"/>
<path d="M571.6,262.0 575.0,261.3 577.4,262.0 575.6,264.7 572.9,265.3Z" fill="#A80000" stroke="#000" stroke-width="1.2" stroke-linejoin="round"/>
<path d="M620.5,250.5 622.0,250.2 623.5,252.5 624.5,254.5 625.0,256.0 627.5,255.5 628.0,256.5 626.5,258.5 624.5,260.0 622.5,261.2 620.5,261.8 619.0,260.5 618.8,259.0 620.5,258.2 621.5,256.5 621.2,254.0Z" fill="#A80000" stroke="#000" stroke-width="1.2" stroke-linejoin="round"/>
<path d="M602.0,269.5 604.0,267.5 607.0,266.2 610.0,265.0 613.0,263.0 615.5,261.2 617.2,260.5 618.0,262.0 616.5,264.0 614.0,266.0 611.0,268.0 608.5,270.0 606.0,271.5 603.5,271.2Z" fill="#A80000" stroke="#000" stroke-width="1.2" stroke-linejoin="round"/>
<circle cx="591.7" cy="180.5" r="1.4" fill="#A80000" stroke="#000" stroke-width="1.0"/>
<circle cx="627.2" cy="182.3" r="1.4" fill="#fff" stroke="#000" stroke-width="1.0"/>
<circle cx="622.1" cy="194.0" r="1.4" fill="#fff" stroke="#000" stroke-width="1.0"/>
<circle cx="634.5" cy="193.7" r="1.4" fill="#A80000" stroke="#000" stroke-width="1.0"/>
<circle cx="638.7" cy="205.8" r="1.4" fill="#fff" stroke="#000" stroke-width="1.0"/>
<circle cx="611.7" cy="207.7" r="1.4" fill="#FFAA00" stroke="#000" stroke-width="1.0"/>
<circle cx="566.6" cy="182.1" r="1.4" fill="#fff" stroke="#000" stroke-width="1.0"/>
<circle cx="57.8" cy="208.3" r="1.4" fill="#fff" stroke="#000" stroke-width="1.0"/>
<circle cx="58.2" cy="216.2" r="1.4" fill="#FFAA00" stroke="#000" stroke-width="1.0"/>
<circle cx="56.0" cy="226.7" r="1.4" fill="#FFAA00" stroke="#000" stroke-width="1.0"/>
<circle cx="63.8" cy="224.9" r="1.4" fill="#EEEEEE" stroke="#000" stroke-width="1.0"/>
<circle cx="82.2" cy="227.9" r="1.4" fill="#EEEEEE" stroke="#000" stroke-width="1.0"/>
<path d="M590,203.6 593,203 596.5,202.2 598.6,200.5 597.5,198.6 595,197.3" fill="none" stroke="#000" stroke-width="1.3" stroke-linecap="round" stroke-linejoin="round"/>
<path d="M619,217.6 622,221" fill="none" stroke="#000" stroke-width="1.2" stroke-linecap="round"/>
<path d="M613.6,227 618,230" fill="none" stroke="#000" stroke-width="1.2" stroke-linecap="round"/>
<path d="M638.2,221 639.6,223.5" fill="none" stroke="#000" stroke-width="1.6" stroke-linecap="round"/>
<path d="M235.0,162.3 245.9,146.3" stroke="#000" stroke-width="0.85" fill="none"/>
<path d="M241.3,163.7 250.0,149.7" stroke="#000" stroke-width="0.85" fill="none"/>
<path d="M242.0,164.3 253.0,154.1" stroke="#000" stroke-width="0.85" fill="none"/>
<path d="M242.0,166.7 254.5,159.5" stroke="#000" stroke-width="0.85" fill="none"/>
<path d="M242.3,168.3 254.5,164.5" stroke="#000" stroke-width="0.85" fill="none"/>
<path d="M242.7,171.0 253.0,169.3" stroke="#000" stroke-width="0.85" fill="none"/>
<path d="M244.5,171.8 250.3,173.7" stroke="#000" stroke-width="0.85" fill="none"/>
<path d="M243.5,175.0 246.5,176.9" stroke="#000" stroke-width="0.85" fill="none"/>
<circle cx="245.9" cy="146.3" r="1.5" fill="#fff" stroke="#000" stroke-width="0.9"/>
<circle cx="250.0" cy="149.7" r="1.5" fill="#f4f4f4" stroke="#000" stroke-width="0.9"/>
<circle cx="253.0" cy="154.1" r="1.5" fill="#FFEBAF" stroke="#000" stroke-width="0.9"/>
<circle cx="254.5" cy="159.5" r="1.5" fill="#fff" stroke="#000" stroke-width="0.9"/>
<circle cx="254.5" cy="164.5" r="1.5" fill="#FF5500" stroke="#000" stroke-width="0.9"/>
<circle cx="253.0" cy="169.3" r="1.5" fill="#FFEBAF" stroke="#000" stroke-width="0.9"/>
<circle cx="250.3" cy="173.7" r="1.5" fill="#FFEBAF" stroke="#000" stroke-width="0.9"/>
<circle cx="246.5" cy="176.9" r="1.5" fill="#FFEBAF" stroke="#000" stroke-width="0.9"/>
<path d="M240.7,163 242,166.3 242,169 241.3,171.7 241,173.3 242.6,175" fill="none" stroke="#000" stroke-width="1.2" stroke-linecap="round" stroke-linejoin="round" stroke-dasharray="1.6 0.9"/>
<path d="M241.2,174.2 243.4,174.0 243.4,175.6 241.4,175.6Z" fill="#A80000" stroke="#000" stroke-width="0.5" stroke-linejoin="round"/>
<g font-family="Liberation Sans, Arial, sans-serif" fill="#111">
<text x="53.4" y="248" font-size="8.4" font-weight="bold" textLength="157.5" lengthAdjust="spacingAndGlyphs">Suicide rate (per 100 000 population)</text>
<g stroke="#000" stroke-width="0.8">
<rect x="53.2" y="253.6" width="21" height="10.4" fill="#FFEBAF"/>
<rect x="53.2" y="267.9" width="21" height="10.4" fill="#FFAA00"/>
<rect x="53.2" y="282.3" width="21" height="10.4" fill="#FF5500"/>
<rect x="53.2" y="296.6" width="21" height="10.4" fill="#A80000"/>
</g>
<g stroke="#222" stroke-width="0.9">
<rect x="124.3" y="282.3" width="20.8" height="10.4" fill="#EEEEEE"/>
<rect x="124.3" y="296.6" width="20.8" height="10.4" fill="#CFCFCF"/>
</g>
<g font-size="6.7" lengthAdjust="spacingAndGlyphs">
<text x="78.1" y="261.9" textLength="14.6" lengthAdjust="spacingAndGlyphs">&lt;5.0</text>
<text x="78.1" y="276.1" textLength="24.8" lengthAdjust="spacingAndGlyphs">5.0&#8211;9.9</text>
<text x="78.1" y="290.4" textLength="32.6" lengthAdjust="spacingAndGlyphs">10.0&#8211;14.9</text>
<text x="78.1" y="304.8" textLength="18.5" lengthAdjust="spacingAndGlyphs">=15.0</text>
<text x="149.1" y="290.4" textLength="59.2" lengthAdjust="spacingAndGlyphs">Data not available</text>
<text x="149.1" y="304.8" textLength="46.7" lengthAdjust="spacingAndGlyphs">Not applicable</text>
</g>
</g>

<g>
<rect x="506.8" y="302.4" width="61.2" height="4.9" fill="#000"/>
<rect x="516.0" y="303.8" width="6.1" height="2.2" fill="#fff"/>
<rect x="530.9" y="303.8" width="6.2" height="2.2" fill="#fff"/>
<g font-family="Liberation Sans, Arial, sans-serif" font-size="4.3" fill="#222">
<text x="506.8" y="301">0</text>
<text x="518.8" y="301">850</text>
<text x="532" y="301">1,700</text>
<text x="562.5" y="301">3,400 Kilometers</text>
</g>
</g>
</svg>

<p class="para">
<span class="l1"><b>Globally, the age-standardized suicide rate was 1.8 times higher in males than in females. Male:female (M:F)</b></span>
<span class="l2"><b>suicide ratios greater than 1 indicate that suicide rates are higher in males than in females. While the M:F ratio</b></span>
<span class="l3"><b>is close to 3 in high-income countries (i.e. the rates are three times higher in males), the ratio was more equal</b></span>
<span class="l4"><b>in low- and middle-income countries. The only countries where the suicide rate was estimated to be higher in</b></span>
<span class="l5"><b>females than in males were Bangladesh, China, Lesotho, Morocco, and Myanmar (Figure 4).</b></span>
</p>
</body></html>
